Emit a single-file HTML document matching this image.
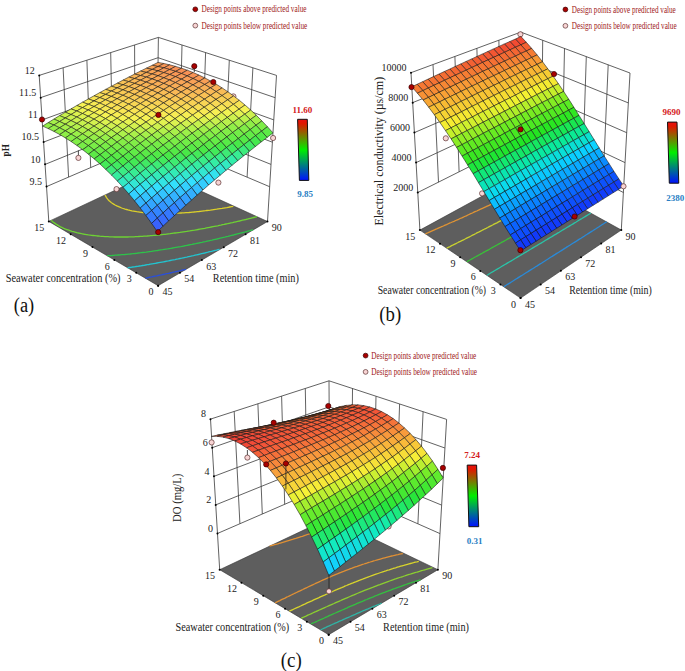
<!DOCTYPE html>
<html><head><meta charset="utf-8"><style>
html,body{margin:0;padding:0;background:#fff;}
svg{display:block;}
text{font-family:"Liberation Serif",serif;}
.s polygon{stroke:#141414;stroke-opacity:0.8;stroke-width:0.7;stroke-linejoin:round;}
</style></head><body>
<svg width="685" height="671" viewBox="0 0 685 671">
<defs><linearGradient id="cbg" x1="0" y1="0" x2="0" y2="1">
<stop offset="0" stop-color="#e81010"/><stop offset="0.07" stop-color="#e01800"/><stop offset="0.5" stop-color="#00ee00"/><stop offset="1" stop-color="#0010ff"/>
</linearGradient></defs>
<rect width="685" height="671" fill="#fff"/>
<line x1="46.5" y1="186.6" x2="157.0" y2="139.0" stroke="#3a3a3a" stroke-width="0.8"/>
<line x1="269.6" y1="186.7" x2="157.0" y2="139.0" stroke="#3a3a3a" stroke-width="0.8"/>
<line x1="45.1" y1="164.4" x2="157.3" y2="118.7" stroke="#3a3a3a" stroke-width="0.8"/>
<line x1="271.0" y1="164.4" x2="157.3" y2="118.7" stroke="#3a3a3a" stroke-width="0.8"/>
<line x1="43.6" y1="142.1" x2="157.5" y2="98.4" stroke="#3a3a3a" stroke-width="0.8"/>
<line x1="272.4" y1="142.2" x2="157.5" y2="98.4" stroke="#3a3a3a" stroke-width="0.8"/>
<line x1="42.2" y1="119.9" x2="157.8" y2="78.0" stroke="#3a3a3a" stroke-width="0.8"/>
<line x1="273.8" y1="119.9" x2="157.8" y2="78.0" stroke="#3a3a3a" stroke-width="0.8"/>
<line x1="40.7" y1="97.6" x2="158.1" y2="57.7" stroke="#3a3a3a" stroke-width="0.8"/>
<line x1="275.2" y1="97.7" x2="158.1" y2="57.7" stroke="#3a3a3a" stroke-width="0.8"/>
<line x1="39.2" y1="75.4" x2="158.4" y2="37.4" stroke="#3a3a3a" stroke-width="0.8"/>
<line x1="276.5" y1="75.4" x2="158.4" y2="37.4" stroke="#3a3a3a" stroke-width="0.8"/>
<line x1="68.6" y1="177.1" x2="63.1" y2="67.8" stroke="#3a3a3a" stroke-width="0.8"/>
<line x1="247.1" y1="177.1" x2="252.9" y2="67.8" stroke="#3a3a3a" stroke-width="0.8"/>
<line x1="90.7" y1="167.6" x2="86.9" y2="60.2" stroke="#3a3a3a" stroke-width="0.8"/>
<line x1="224.6" y1="167.6" x2="229.3" y2="60.2" stroke="#3a3a3a" stroke-width="0.8"/>
<line x1="112.8" y1="158.1" x2="110.7" y2="52.6" stroke="#3a3a3a" stroke-width="0.8"/>
<line x1="202.0" y1="158.1" x2="205.6" y2="52.6" stroke="#3a3a3a" stroke-width="0.8"/>
<line x1="134.9" y1="148.5" x2="134.6" y2="45.0" stroke="#3a3a3a" stroke-width="0.8"/>
<line x1="179.5" y1="148.6" x2="182.0" y2="45.0" stroke="#3a3a3a" stroke-width="0.8"/>
<line x1="157.0" y1="139.0" x2="158.4" y2="37.4" stroke="#3a3a3a" stroke-width="0.8"/>
<line x1="48.8" y1="221.4" x2="39.2" y2="75.4" stroke="#3a3a3a" stroke-width="0.8"/>
<line x1="267.5" y1="221.5" x2="276.5" y2="75.4" stroke="#3a3a3a" stroke-width="0.8"/>
<polygon points="158.1,285.7 48.8,221.4 156.5,170.8 267.5,221.5" fill="#5e5e5e" stroke="#333" stroke-width="0.6"/>
<polyline points="145.3,278.1 146.9,277.8 148.5,277.5 150.1,277.2 151.7,276.9 153.3,276.5 155.0,276.2 156.6,275.9 158.2,275.5 159.8,275.2 161.4,274.9 163.1,274.5 164.9,274.1 166.6,273.7 168.4,273.4 170.1,273.0 171.7,272.6 173.3,272.2 174.9,271.9 176.5,271.5 178.1,271.2 179.7,270.8 181.2,270.4 182.8,270.0 184.4,269.7 186.1,269.3" fill="none" stroke="#2a4fd8" stroke-width="1.3"/>
<polyline points="127.6,267.8 129.3,267.5 131.0,267.3 132.7,267.0 134.4,266.8 136.1,266.5 137.8,266.3 139.5,266.0 141.0,265.8 142.6,265.5 144.1,265.3 145.7,265.0 147.3,264.7 148.9,264.5 150.4,264.2 152.1,263.9 153.7,263.6 155.4,263.3 157.0,263.0 158.7,262.7 160.3,262.4 162.0,262.1 163.6,261.8 165.3,261.5 166.9,261.2 168.5,260.9 170.2,260.5 171.8,260.2 173.4,259.9 175.1,259.6 176.7,259.2 178.3,258.9 180.0,258.5 181.7,258.2 183.4,257.8 185.1,257.4 186.8,257.1 188.5,256.7 190.3,256.3 192.0,255.9 193.5,255.6 195.1,255.2 196.7,254.8 198.3,254.5 199.9,254.1 201.5,253.7 203.1,253.3 204.7,253.0 206.2,252.6 207.9,252.2 209.7,251.7 211.5,251.3 213.3,250.8 214.9,250.4 216.5,250.1 218.0,249.7 219.6,249.3" fill="none" stroke="#22c4d0" stroke-width="1.3"/>
<polyline points="107.2,255.7 108.7,255.7 110.0,255.6 111.9,255.5 113.8,255.3 115.2,255.2 116.6,255.1 118.4,255.0 120.3,254.9 121.8,254.7 123.2,254.6 124.8,254.5 126.6,254.3 128.5,254.1 130.0,254.0 131.4,253.8 132.9,253.6 134.7,253.5 136.5,253.3 138.3,253.0 139.9,252.9 141.3,252.7 142.8,252.5 144.4,252.3 146.2,252.1 147.9,251.8 149.7,251.6 151.4,251.4 153.0,251.1 154.5,250.9 156.0,250.7 157.5,250.5 159.2,250.2 160.9,249.9 162.6,249.7 164.3,249.4 166.0,249.1 167.7,248.9 169.3,248.6 171.0,248.3 172.7,248.0 174.4,247.7 176.0,247.4 177.5,247.1 179.1,246.8 180.7,246.6 182.3,246.3 183.9,246.0 185.5,245.6 187.2,245.3 188.8,245.0 190.4,244.7 192.1,244.4 193.7,244.0 195.4,243.7 197.0,243.3 198.7,243.0 200.4,242.6 202.0,242.3 203.7,241.9 205.4,241.6 207.1,241.2 208.8,240.8 210.5,240.4 212.1,240.1 213.7,239.7 215.3,239.3 216.9,239.0 218.5,238.6 220.1,238.2 221.7,237.8 223.3,237.4 224.9,237.1 226.4,236.7 228.0,236.3 229.8,235.8 231.6,235.4 233.4,235.0 235.1,234.5 236.7,234.1 238.3,233.7 239.8,233.3 241.4,232.9 243.0,232.5 244.5,232.1 246.2,231.6 248.0,231.1 249.9,230.6 251.5,230.2 253.1,229.8" fill="none" stroke="#2ec24a" stroke-width="1.3"/>
<polyline points="51.2,220.3 52.0,221.0 53.3,222.2 54.3,222.9 55.7,223.9 57.3,224.9 58.9,225.9 60.6,226.8 62.4,227.7 63.7,228.3 65.6,229.1 67.0,229.6 68.8,230.2 70.5,230.8 72.0,231.3 73.5,231.7 75.0,232.1 76.8,232.6 78.5,233.0 80.1,233.3 81.7,233.7 83.2,234.0 84.9,234.3 86.6,234.6 88.4,234.9 90.2,235.1 91.6,235.3 93.1,235.5 94.9,235.7 96.7,235.9 97.9,236.0 99.8,236.2 101.5,236.3 102.8,236.4 104.9,236.6 106.2,236.6 108.0,236.7 109.6,236.8 111.2,236.9 112.9,236.9 114.5,237.0 116.1,237.0 117.8,237.0 119.3,237.0 121.2,237.0 122.5,237.0 124.6,237.0 125.8,237.0 127.6,237.0 129.3,236.9 130.7,236.9 132.6,236.8 134.1,236.8 135.6,236.7 137.6,236.6 139.0,236.5 140.5,236.4 142.4,236.3 144.0,236.2 145.3,236.1 147.2,236.0 149.1,235.8 150.5,235.7 151.9,235.6 153.8,235.4 155.6,235.3 157.1,235.1 158.4,235.0 160.2,234.8 162.1,234.6 163.9,234.4 165.2,234.3 166.6,234.1 168.4,233.9 170.2,233.7 172.0,233.4 173.6,233.2 175.0,233.0 176.5,232.8 178.2,232.6 179.9,232.4 181.7,232.1 183.4,231.8 185.2,231.6 186.7,231.4 188.2,231.1 189.7,230.9 191.2,230.6 192.9,230.3 194.6,230.1 196.4,229.8 198.1,229.5 199.8,229.2 201.5,228.9 203.1,228.6 204.8,228.3 206.5,227.9 208.1,227.6 209.7,227.3 211.3,227.0 212.9,226.7 214.5,226.4 216.1,226.1 217.7,225.8 219.3,225.4 220.9,225.1 222.6,224.7 224.2,224.4 225.9,224.0 227.5,223.7 229.2,223.3 230.9,222.9 232.6,222.6 234.2,222.2 235.9,221.8 237.6,221.4 239.4,221.0 241.0,220.6 242.6,220.2 244.2,219.8 245.8,219.5 247.4,219.1 249.0,218.7 250.6,218.3 252.2,217.9 253.8,217.5 255.4,217.1 257.0,216.7" fill="none" stroke="#6ed234" stroke-width="1.3"/>
<polyline points="105.1,195.0 105.5,195.9 106.0,196.7 106.5,197.6 107.1,198.4 107.7,199.2 108.4,200.0 109.1,200.7 110.1,201.6 111.2,202.5 112.3,203.3 113.6,204.1 115.1,205.0 116.8,205.9 118.6,206.7 119.8,207.2 121.7,208.0 123.2,208.5 125.1,209.1 126.6,209.5 128.0,209.9 130.0,210.4 131.8,210.8 133.5,211.1 135.1,211.4 136.7,211.7 138.2,211.9 139.7,212.1 141.2,212.3 143.0,212.5 144.8,212.7 146.5,212.9 147.8,213.0 149.6,213.1 151.5,213.2 152.8,213.3 154.5,213.4 156.4,213.4 157.6,213.5 159.7,213.5 160.9,213.6 162.9,213.6 164.3,213.6 166.2,213.6 167.5,213.5 169.5,213.5 170.7,213.5 172.8,213.4 174.1,213.4 175.9,213.3 177.6,213.2 179.0,213.1 181.0,213.0 182.4,212.9 184.0,212.8 185.9,212.7 187.3,212.6 188.9,212.5 190.8,212.3 192.4,212.1 193.7,212.0 195.6,211.8 197.4,211.6 198.9,211.5 200.3,211.3 202.1,211.1 204.0,210.9 205.6,210.7 206.9,210.5 208.5,210.3 210.4,210.1 212.2,209.8 213.8,209.6 215.2,209.4 216.7,209.2 218.4,208.9 220.2,208.6 222.0,208.4 223.7,208.1 225.3,207.8 226.8,207.6 228.3,207.3 229.8,207.0 231.6,206.7 233.3,206.4" fill="none" stroke="#dcd02a" stroke-width="1.3"/>
<circle cx="46.53" cy="186.60" r="1" fill="#000"/>
<circle cx="45.07" cy="164.36" r="1" fill="#000"/>
<circle cx="43.61" cy="142.12" r="1" fill="#000"/>
<circle cx="42.15" cy="119.88" r="1" fill="#000"/>
<circle cx="40.70" cy="97.64" r="1" fill="#000"/>
<circle cx="39.24" cy="75.40" r="1" fill="#000"/>
<circle cx="158.12" cy="285.70" r="1" fill="#000"/>
<circle cx="158.12" cy="285.70" r="1" fill="#000"/>
<circle cx="136.26" cy="272.83" r="1" fill="#000"/>
<circle cx="179.99" cy="272.85" r="1" fill="#000"/>
<circle cx="114.40" cy="259.97" r="1" fill="#000"/>
<circle cx="201.86" cy="260.01" r="1" fill="#000"/>
<circle cx="92.53" cy="247.11" r="1" fill="#000"/>
<circle cx="223.73" cy="247.17" r="1" fill="#000"/>
<circle cx="70.67" cy="234.25" r="1" fill="#000"/>
<circle cx="245.59" cy="234.33" r="1" fill="#000"/>
<circle cx="48.81" cy="221.39" r="1" fill="#000"/>
<circle cx="267.46" cy="221.48" r="1" fill="#000"/>
<circle cx="233.4" cy="96.4" r="2.6" fill="#f8d4d4" stroke="#5a3030" stroke-width="0.7"/>
<g class="s">
<polygon points="158.0,66.5 152.2,65.3 158.0,62.4 163.9,63.5" fill="#f99d56"/>
<polygon points="163.9,67.8 158.0,66.5 163.9,63.5 169.7,64.8" fill="#f89656"/>
<polygon points="152.2,69.4 146.3,68.2 152.2,65.3 158.0,66.5" fill="#f9a356"/>
<polygon points="169.7,69.5 163.9,67.8 169.7,64.8 175.6,66.4" fill="#f89255"/>
<polygon points="158.0,70.9 152.2,69.4 158.0,66.5 163.9,67.8" fill="#f99d56"/>
<polygon points="146.3,72.4 140.5,71.1 146.3,68.2 152.2,69.4" fill="#f9a957"/>
<polygon points="152.1,74.0 146.3,72.4 152.2,69.4 158.0,70.9" fill="#f9a557"/>
<polygon points="140.5,75.5 134.6,74.1 140.5,71.1 146.3,72.4" fill="#f9b057"/>
<polygon points="175.6,71.4 169.7,69.5 175.6,66.4 181.5,68.2" fill="#f79055"/>
<polygon points="163.8,72.6 158.0,70.9 163.9,67.8 169.7,69.5" fill="#f89956"/>
<polygon points="146.3,77.1 140.5,75.5 146.3,72.4 152.1,74.0" fill="#f9ac57"/>
<polygon points="181.4,73.5 175.6,71.4 181.5,68.2 187.3,70.2" fill="#f79055"/>
<polygon points="169.7,74.5 163.8,72.6 169.7,69.5 175.6,71.4" fill="#f89856"/>
<polygon points="158.0,75.7 152.1,74.0 158.0,70.9 163.8,72.6" fill="#f9a156"/>
<polygon points="134.6,78.5 128.8,77.1 134.6,74.1 140.5,75.5" fill="#f9b556"/>
<polygon points="175.5,76.7 169.7,74.5 175.6,71.4 181.4,73.5" fill="#f89756"/>
<polygon points="140.4,80.2 134.6,78.5 140.5,75.5 146.3,77.1" fill="#f9b157"/>
<polygon points="187.2,75.9 181.4,73.5 187.3,70.2 193.1,72.5" fill="#f79155"/>
<polygon points="163.8,77.8 158.0,75.7 163.8,72.6 169.7,74.5" fill="#f99f56"/>
<polygon points="152.1,78.9 146.3,77.1 152.1,74.0 158.0,75.7" fill="#f9a857"/>
<polygon points="128.8,81.6 123.0,80.1 128.8,77.1 134.6,78.5" fill="#f9bc56"/>
<polygon points="157.9,81.0 152.1,78.9 158.0,75.7 163.8,77.8" fill="#f9a757"/>
<polygon points="193.0,78.5 187.2,75.9 193.1,72.5 199.0,75.1" fill="#f89456"/>
<polygon points="181.3,79.2 175.5,76.7 181.4,73.5 187.2,75.9" fill="#f89956"/>
<polygon points="169.6,80.0 163.8,77.8 169.7,74.5 175.5,76.7" fill="#f99f56"/>
<polygon points="146.2,82.1 140.4,80.2 146.3,77.1 152.1,78.9" fill="#f9af57"/>
<polygon points="134.6,83.4 128.8,81.6 134.6,78.5 140.4,80.2" fill="#f9b856"/>
<polygon points="123.0,84.8 117.2,83.2 123.0,80.1 128.8,81.6" fill="#f9c255"/>
<polygon points="198.9,81.4 193.0,78.5 199.0,75.1 204.8,77.9" fill="#f89956"/>
<polygon points="187.1,81.9 181.3,79.2 187.2,75.9 193.0,78.5" fill="#f99d56"/>
<polygon points="163.7,83.4 157.9,81.0 163.8,77.8 169.6,80.0" fill="#f9a757"/>
<polygon points="152.1,84.3 146.2,82.1 152.1,78.9 157.9,81.0" fill="#f9ae57"/>
<polygon points="140.4,85.4 134.6,83.4 140.4,80.2 146.2,82.1" fill="#f9b556"/>
<polygon points="128.8,86.6 123.0,84.8 128.8,81.6 134.6,83.4" fill="#f9be56"/>
<polygon points="175.4,82.6 169.6,80.0 175.5,76.7 181.3,79.2" fill="#f9a156"/>
<polygon points="117.2,87.9 111.4,86.3 117.2,83.2 123.0,84.8" fill="#f9c955"/>
<polygon points="181.2,85.4 175.4,82.6 181.3,79.2 187.1,81.9" fill="#f9a557"/>
<polygon points="169.5,86.0 163.7,83.4 169.6,80.0 175.4,82.6" fill="#f9a957"/>
<polygon points="122.9,89.8 117.2,87.9 123.0,84.8 128.8,86.6" fill="#f9c555"/>
<polygon points="111.4,91.1 105.6,89.4 111.4,86.3 117.2,87.9" fill="#f8cf55"/>
<polygon points="204.7,84.5 198.9,81.4 204.8,77.9 210.6,81.0" fill="#f9a056"/>
<polygon points="192.9,84.9 187.1,81.9 193.0,78.5 198.9,81.4" fill="#f9a156"/>
<polygon points="157.9,86.7 152.1,84.3 157.9,81.0 163.7,83.4" fill="#f9ae57"/>
<polygon points="146.2,87.6 140.4,85.4 146.2,82.1 152.1,84.3" fill="#f9b556"/>
<polygon points="134.6,88.7 128.8,86.6 134.6,83.4 140.4,85.4" fill="#f9bd56"/>
<polygon points="175.4,88.9 169.5,86.0 175.4,82.6 181.2,85.4" fill="#f9ad57"/>
<polygon points="117.1,93.1 111.4,91.1 117.2,87.9 122.9,89.8" fill="#f9cc55"/>
<polygon points="210.4,87.9 204.7,84.5 210.6,81.0 216.4,84.3" fill="#f9a957"/>
<polygon points="198.7,88.1 192.9,84.9 198.9,81.4 204.7,84.5" fill="#f9a957"/>
<polygon points="187.0,88.4 181.2,85.4 187.1,81.9 192.9,84.9" fill="#f9aa57"/>
<polygon points="163.7,89.4 157.9,86.7 163.7,83.4 169.5,86.0" fill="#f9b157"/>
<polygon points="152.0,90.2 146.2,87.6 152.1,84.3 157.9,86.7" fill="#f9b556"/>
<polygon points="140.4,91.0 134.6,88.7 140.4,85.4 146.2,87.6" fill="#f9bc56"/>
<polygon points="128.7,92.0 122.9,89.8 128.8,86.6 134.6,88.7" fill="#f9c355"/>
<polygon points="105.6,94.4 99.8,92.6 105.6,89.4 111.4,91.1" fill="#f8d555"/>
<polygon points="204.5,91.6 198.7,88.1 204.7,84.5 210.4,87.9" fill="#f9b157"/>
<polygon points="169.5,92.4 163.7,89.4 169.5,86.0 175.4,88.9" fill="#f9b456"/>
<polygon points="146.2,93.6 140.4,91.0 146.2,87.6 152.0,90.2" fill="#f9bd56"/>
<polygon points="111.3,96.4 105.6,94.4 111.4,91.1 117.1,93.1" fill="#f8d355"/>
<polygon points="216.2,91.6 210.4,87.9 216.4,84.3 222.1,87.9" fill="#f9b157"/>
<polygon points="192.8,91.7 187.0,88.4 192.9,84.9 198.7,88.1" fill="#f9b157"/>
<polygon points="181.2,92.0 175.4,88.9 181.2,85.4 187.0,88.4" fill="#f9b157"/>
<polygon points="157.8,92.9 152.0,90.2 157.9,86.7 163.7,89.4" fill="#f9b856"/>
<polygon points="134.5,94.4 128.7,92.0 134.6,88.7 140.4,91.0" fill="#f9c355"/>
<polygon points="122.9,95.3 117.1,93.1 122.9,89.8 128.7,92.0" fill="#f9ca55"/>
<polygon points="99.8,97.6 94.0,95.8 99.8,92.6 105.6,94.4" fill="#f8dd55"/>
<polygon points="128.7,97.8 122.9,95.3 128.7,92.0 134.5,94.4" fill="#f9ca55"/>
<polygon points="105.5,99.8 99.8,97.6 105.6,94.4 111.3,96.4" fill="#f8da55"/>
<polygon points="94.0,100.9 88.3,99.0 94.0,95.8 99.8,97.6" fill="#f8e454"/>
<polygon points="222.0,95.6 216.2,91.6 222.1,87.9 227.9,91.8" fill="#f9bc56"/>
<polygon points="210.3,95.4 204.5,91.6 210.4,87.9 216.2,91.6" fill="#f9b956"/>
<polygon points="198.6,95.3 192.8,91.7 198.7,88.1 204.5,91.6" fill="#f9b856"/>
<polygon points="186.9,95.4 181.2,92.0 187.0,88.4 192.8,91.7" fill="#f9b856"/>
<polygon points="175.3,95.6 169.5,92.4 175.4,88.9 181.2,92.0" fill="#f9b956"/>
<polygon points="163.6,95.9 157.8,92.9 163.7,89.4 169.5,92.4" fill="#f9bc56"/>
<polygon points="152.0,96.4 146.2,93.6 152.0,90.2 157.8,92.9" fill="#f9bf56"/>
<polygon points="140.3,97.1 134.5,94.4 140.4,91.0 146.2,93.6" fill="#f9c455"/>
<polygon points="117.1,98.7 111.3,96.4 117.1,93.1 122.9,95.3" fill="#f8d155"/>
<polygon points="227.7,99.8 222.0,95.6 227.9,91.8 233.6,95.9" fill="#f9c855"/>
<polygon points="216.0,99.4 210.3,95.4 216.2,91.6 222.0,95.6" fill="#f9c455"/>
<polygon points="192.7,99.1 186.9,95.4 192.8,91.7 198.6,95.3" fill="#f9c056"/>
<polygon points="181.1,99.1 175.3,95.6 181.2,92.0 186.9,95.4" fill="#f9c056"/>
<polygon points="169.4,99.2 163.6,95.9 169.5,92.4 175.3,95.6" fill="#f9c155"/>
<polygon points="157.7,99.5 152.0,96.4 157.8,92.9 163.6,95.9" fill="#f9c355"/>
<polygon points="134.5,100.6 128.7,97.8 134.5,94.4 140.3,97.1" fill="#f9cb55"/>
<polygon points="122.9,101.3 117.1,98.7 122.9,95.3 128.7,97.8" fill="#f8d155"/>
<polygon points="111.3,102.1 105.5,99.8 111.3,96.4 117.1,98.7" fill="#f8d955"/>
<polygon points="99.8,103.1 94.0,100.9 99.8,97.6 105.5,99.8" fill="#f8e154"/>
<polygon points="204.4,99.2 198.6,95.3 204.5,91.6 210.3,95.4" fill="#f9c155"/>
<polygon points="146.1,100.0 140.3,97.1 146.2,93.6 152.0,96.4" fill="#f9c755"/>
<polygon points="88.3,104.3 82.5,102.2 88.3,99.0 94.0,100.9" fill="#f7eb54"/>
<polygon points="210.1,103.3 204.4,99.2 210.3,95.4 216.0,99.4" fill="#f9cc55"/>
<polygon points="198.5,103.0 192.7,99.1 198.6,95.3 204.4,99.2" fill="#f9c955"/>
<polygon points="186.8,102.8 181.1,99.1 186.9,95.4 192.7,99.1" fill="#f9c855"/>
<polygon points="151.9,103.2 146.1,100.0 152.0,96.4 157.7,99.5" fill="#f9cb55"/>
<polygon points="140.3,103.6 134.5,100.6 140.3,97.1 146.1,100.0" fill="#f9ce55"/>
<polygon points="117.1,104.8 111.3,102.1 117.1,98.7 122.9,101.3" fill="#f8d955"/>
<polygon points="105.5,105.6 99.8,103.1 105.5,99.8 111.3,102.1" fill="#f8e054"/>
<polygon points="94.0,106.5 88.3,104.3 94.0,100.9 99.8,103.1" fill="#f7e954"/>
<polygon points="82.5,107.6 76.8,105.5 82.5,102.2 88.3,104.3" fill="#f7f253"/>
<polygon points="233.4,104.3 227.7,99.8 233.6,95.9 239.3,100.3" fill="#f8d555"/>
<polygon points="221.8,103.7 216.0,99.4 222.0,95.6 227.7,99.8" fill="#f8d055"/>
<polygon points="175.2,102.8 169.4,99.2 175.3,95.6 181.1,99.1" fill="#f9c855"/>
<polygon points="163.5,102.9 157.7,99.5 163.6,95.9 169.4,99.2" fill="#f9c955"/>
<polygon points="128.7,104.1 122.9,101.3 128.7,97.8 134.5,100.6" fill="#f8d355"/>
<polygon points="239.1,109.1 233.4,104.3 239.3,100.3 245.0,105.0" fill="#f8e454"/>
<polygon points="227.5,108.3 221.8,103.7 227.7,99.8 233.4,104.3" fill="#f8dd54"/>
<polygon points="215.9,107.7 210.1,103.3 216.0,99.4 221.8,103.7" fill="#f8d955"/>
<polygon points="204.2,107.2 198.5,103.0 204.4,99.2 210.1,103.3" fill="#f8d555"/>
<polygon points="192.6,106.9 186.8,102.8 192.7,99.1 198.5,103.0" fill="#f8d155"/>
<polygon points="181.0,106.6 175.2,102.8 181.1,99.1 186.8,102.8" fill="#f8d055"/>
<polygon points="169.3,106.6 163.5,102.9 169.4,99.2 175.2,102.8" fill="#f8d055"/>
<polygon points="157.7,106.6 151.9,103.2 157.7,99.5 163.5,102.9" fill="#f8d155"/>
<polygon points="146.1,106.8 140.3,103.6 146.1,100.0 151.9,103.2" fill="#f8d355"/>
<polygon points="134.5,107.2 128.7,104.1 134.5,100.6 140.3,103.6" fill="#f8d655"/>
<polygon points="122.9,107.7 117.1,104.8 122.9,101.3 128.7,104.1" fill="#f8db55"/>
<polygon points="111.3,108.3 105.5,105.6 111.3,102.1 117.1,104.8" fill="#f8e154"/>
<polygon points="99.8,109.1 94.0,106.5 99.8,103.1 105.5,105.6" fill="#f7e854"/>
<polygon points="88.2,110.0 82.5,107.6 88.3,104.3 94.0,106.5" fill="#f7f053"/>
<polygon points="76.8,111.0 71.0,108.9 76.8,105.5 82.5,107.6" fill="#e9f251"/>
<polygon points="233.2,113.2 227.5,108.3 233.4,104.3 239.1,109.1" fill="#f7ed53"/>
<polygon points="198.3,111.2 192.6,106.9 198.5,103.0 204.2,107.2" fill="#f8dd55"/>
<polygon points="175.1,110.5 169.3,106.6 175.2,102.8 181.0,106.6" fill="#f8d955"/>
<polygon points="140.2,110.6 134.5,107.2 140.3,103.6 146.1,106.8" fill="#f8db55"/>
<polygon points="117.1,111.3 111.3,108.3 117.1,104.8 122.9,107.7" fill="#f8e254"/>
<polygon points="244.7,114.2 239.1,109.1 245.0,105.0 250.7,110.0" fill="#f4f353"/>
<polygon points="221.6,112.4 215.9,107.7 221.8,103.7 227.5,108.3" fill="#f8e654"/>
<polygon points="210.0,111.7 204.2,107.2 210.1,103.3 215.9,107.7" fill="#f8e154"/>
<polygon points="186.7,110.7 181.0,106.6 186.8,102.8 192.6,106.9" fill="#f8da55"/>
<polygon points="163.5,110.4 157.7,106.6 163.5,102.9 169.3,106.6" fill="#f8d855"/>
<polygon points="151.8,110.4 146.1,106.8 151.9,103.2 157.7,106.6" fill="#f8d955"/>
<polygon points="128.6,110.9 122.9,107.7 128.7,104.1 134.5,107.2" fill="#f8de54"/>
<polygon points="105.5,111.9 99.8,109.1 105.5,105.6 111.3,108.3" fill="#f7e954"/>
<polygon points="94.0,112.6 88.2,110.0 94.0,106.5 99.8,109.1" fill="#f7ef53"/>
<polygon points="82.5,113.5 76.8,111.0 82.5,107.6 88.2,110.0" fill="#edf352"/>
<polygon points="71.0,114.5 65.3,112.2 71.0,108.9 76.8,111.0" fill="#d9f250"/>
<polygon points="122.8,114.5 117.1,111.3 122.9,107.7 128.6,110.9" fill="#f8e654"/>
<polygon points="76.8,117.0 71.0,114.5 76.8,111.0 82.5,113.5" fill="#ddf250"/>
<polygon points="65.3,118.0 59.6,115.6 65.3,112.2 71.0,114.5" fill="#c8f14d"/>
<polygon points="250.4,119.5 244.7,114.2 250.7,110.0 256.3,115.3" fill="#cdf14e"/>
<polygon points="238.8,118.4 233.2,113.2 239.1,109.1 244.7,114.2" fill="#e1f251"/>
<polygon points="227.3,117.4 221.6,112.4 227.5,108.3 233.2,113.2" fill="#f1f352"/>
<polygon points="215.7,116.5 210.0,111.7 215.9,107.7 221.6,112.4" fill="#f7ef53"/>
<polygon points="204.1,115.7 198.3,111.2 204.2,107.2 210.0,111.7" fill="#f7e954"/>
<polygon points="192.5,115.1 186.7,110.7 192.6,106.9 198.3,111.2" fill="#f8e554"/>
<polygon points="180.8,114.7 175.1,110.5 181.0,106.6 186.7,110.7" fill="#f8e254"/>
<polygon points="169.2,114.4 163.5,110.4 169.3,106.6 175.1,110.5" fill="#f8e154"/>
<polygon points="157.6,114.2 151.8,110.4 157.7,106.6 163.5,110.4" fill="#f8e154"/>
<polygon points="146.0,114.2 140.2,110.6 146.1,106.8 151.8,110.4" fill="#f8e154"/>
<polygon points="134.4,114.3 128.6,110.9 134.5,107.2 140.2,110.6" fill="#f8e354"/>
<polygon points="111.3,114.9 105.5,111.9 111.3,108.3 117.1,111.3" fill="#f7eb54"/>
<polygon points="99.8,115.5 94.0,112.6 99.8,109.1 105.5,111.9" fill="#f7f153"/>
<polygon points="88.2,116.2 82.5,113.5 88.2,110.0 94.0,112.6" fill="#eef352"/>
<polygon points="256.0,125.2 250.4,119.5 256.3,115.3 261.9,120.9" fill="#a2f049"/>
<polygon points="244.5,123.8 238.8,118.4 244.7,114.2 250.4,119.5" fill="#b9f14c"/>
<polygon points="232.9,122.6 227.3,117.4 233.2,113.2 238.8,118.4" fill="#cdf14e"/>
<polygon points="221.4,121.5 215.7,116.5 221.6,112.4 227.3,117.4" fill="#ddf250"/>
<polygon points="209.8,120.6 204.1,115.7 210.0,111.7 215.7,116.5" fill="#edf352"/>
<polygon points="198.2,119.8 192.5,115.1 198.3,111.2 204.1,115.7" fill="#f7f253"/>
<polygon points="186.6,119.2 180.8,114.7 186.7,110.7 192.5,115.1" fill="#f7ee53"/>
<polygon points="163.4,118.3 157.6,114.2 163.5,110.4 169.2,114.4" fill="#f7e954"/>
<polygon points="151.8,118.1 146.0,114.2 151.8,110.4 157.6,114.2" fill="#f7e954"/>
<polygon points="140.2,118.0 134.4,114.3 140.2,110.6 146.0,114.2" fill="#f7e954"/>
<polygon points="128.6,118.1 122.8,114.5 128.6,110.9 134.4,114.3" fill="#f7eb54"/>
<polygon points="105.5,118.6 99.8,115.5 105.5,111.9 111.3,114.9" fill="#f7f353"/>
<polygon points="82.5,119.8 76.8,117.0 82.5,113.5 88.2,116.2" fill="#ddf250"/>
<polygon points="71.0,120.6 65.3,118.0 71.0,114.5 76.8,117.0" fill="#cbf14e"/>
<polygon points="175.0,118.7 169.2,114.4 175.1,110.5 180.8,114.7" fill="#f7eb54"/>
<polygon points="117.1,118.3 111.3,114.9 117.1,111.3 122.8,114.5" fill="#f7ee53"/>
<polygon points="94.0,119.1 88.2,116.2 94.0,112.6 99.8,115.5" fill="#ebf251"/>
<polygon points="59.6,121.5 53.9,119.1 59.6,115.6 65.3,118.0" fill="#b7f14c"/>
<polygon points="261.5,131.2 256.0,125.2 261.9,120.9 267.4,126.7" fill="#7dee47"/>
<polygon points="238.5,128.2 232.9,122.6 238.8,118.4 244.5,123.8" fill="#a5f04a"/>
<polygon points="227.0,126.9 221.4,121.5 227.3,117.4 232.9,122.6" fill="#b9f14c"/>
<polygon points="215.5,125.8 209.8,120.6 215.7,116.5 221.4,121.5" fill="#caf14e"/>
<polygon points="180.7,123.2 175.0,118.7 180.8,114.7 186.6,119.2" fill="#eef352"/>
<polygon points="169.1,122.7 163.4,118.3 169.2,114.4 175.0,118.7" fill="#f5f353"/>
<polygon points="157.6,122.3 151.8,118.1 157.6,114.2 163.4,118.3" fill="#f7f253"/>
<polygon points="134.4,121.9 128.6,118.1 134.4,114.3 140.2,118.0" fill="#f7f253"/>
<polygon points="122.8,121.9 117.1,118.3 122.8,114.5 128.6,118.1" fill="#f5f353"/>
<polygon points="111.3,122.1 105.5,118.6 111.3,114.9 117.1,118.3" fill="#eff352"/>
<polygon points="99.8,122.4 94.0,119.1 99.8,115.5 105.5,118.6" fill="#e5f251"/>
<polygon points="76.8,123.4 71.0,120.6 76.8,117.0 82.5,119.8" fill="#cbf14e"/>
<polygon points="65.3,124.2 59.6,121.5 65.3,118.0 71.0,120.6" fill="#b9f14c"/>
<polygon points="53.9,125.0 48.2,122.6 53.9,119.1 59.6,121.5" fill="#a5f04a"/>
<polygon points="250.1,129.6 244.5,123.8 250.4,119.5 256.0,125.2" fill="#8def47"/>
<polygon points="203.9,124.8 198.2,119.8 204.1,115.7 209.8,120.6" fill="#d9f250"/>
<polygon points="192.3,123.9 186.6,119.2 192.5,115.1 198.2,119.8" fill="#e5f251"/>
<polygon points="146.0,122.0 140.2,118.0 146.0,114.2 151.8,118.1" fill="#f7f153"/>
<polygon points="88.2,122.8 82.5,119.8 88.2,116.2 94.0,119.1" fill="#d9f250"/>
<polygon points="267.1,137.4 261.5,131.2 267.4,126.7 273.0,132.9" fill="#5deb47"/>
<polygon points="255.6,135.6 250.1,129.6 256.0,125.2 261.5,131.2" fill="#6fed47"/>
<polygon points="244.2,134.0 238.5,128.2 244.5,123.8 250.1,129.6" fill="#80ee47"/>
<polygon points="232.7,132.5 227.0,126.9 232.9,122.6 238.5,128.2" fill="#90ef48"/>
<polygon points="221.1,131.2 215.5,125.8 221.4,121.5 227.0,126.9" fill="#a4f049"/>
<polygon points="209.6,130.0 203.9,124.8 209.8,120.6 215.5,125.8" fill="#b5f14c"/>
<polygon points="186.5,128.1 180.7,123.2 186.6,119.2 192.3,123.9" fill="#d1f14f"/>
<polygon points="174.9,127.3 169.1,122.7 175.0,118.7 180.7,123.2" fill="#dbf250"/>
<polygon points="163.3,126.7 157.6,122.3 163.4,118.3 169.1,122.7" fill="#e1f251"/>
<polygon points="151.7,126.3 146.0,122.0 151.8,118.1 157.6,122.3" fill="#e6f251"/>
<polygon points="128.6,125.8 122.8,121.9 128.6,118.1 134.4,121.9" fill="#e6f251"/>
<polygon points="117.1,125.7 111.3,122.1 117.1,118.3 122.8,121.9" fill="#e2f251"/>
<polygon points="105.5,125.9 99.8,122.4 105.5,118.6 111.3,122.1" fill="#dcf250"/>
<polygon points="94.0,126.1 88.2,122.8 94.0,119.1 99.8,122.4" fill="#d3f14f"/>
<polygon points="71.1,127.1 65.3,124.2 71.0,120.6 76.8,123.4" fill="#b9f14c"/>
<polygon points="59.6,127.8 53.9,125.0 59.6,121.5 65.3,124.2" fill="#a8f04a"/>
<polygon points="48.2,128.6 42.6,126.1 48.2,122.6 53.9,125.0" fill="#94ef48"/>
<polygon points="198.0,129.0 192.3,123.9 198.2,119.8 203.9,124.8" fill="#c5f14d"/>
<polygon points="140.2,125.9 134.4,121.9 140.2,118.0 146.0,122.0" fill="#e8f251"/>
<polygon points="82.5,126.5 76.8,123.4 82.5,119.8 88.2,122.8" fill="#c7f14d"/>
<polygon points="226.8,136.9 221.1,131.2 227.0,126.9 232.7,132.5" fill="#81ee47"/>
<polygon points="203.7,134.3 198.0,129.0 203.9,124.8 209.6,130.0" fill="#a1f049"/>
<polygon points="169.1,131.5 163.3,126.7 169.1,122.7 174.9,127.3" fill="#c7f14d"/>
<polygon points="145.9,130.3 140.2,125.9 146.0,122.0 151.7,126.3" fill="#d2f14f"/>
<polygon points="111.3,129.6 105.5,125.9 111.3,122.1 117.1,125.7" fill="#d0f14f"/>
<polygon points="65.4,130.8 59.6,127.8 65.3,124.2 71.1,127.1" fill="#a6f04a"/>
<polygon points="53.9,131.4 48.2,128.6 53.9,125.0 59.6,127.8" fill="#95ef48"/>
<polygon points="261.2,142.0 255.6,135.6 261.5,131.2 267.1,137.4" fill="#50ea47"/>
<polygon points="249.7,140.2 244.2,134.0 250.1,129.6 255.6,135.6" fill="#62ec47"/>
<polygon points="238.3,138.5 232.7,132.5 238.5,128.2 244.2,134.0" fill="#72ed47"/>
<polygon points="215.3,135.6 209.6,130.0 215.5,125.8 221.1,131.2" fill="#8fef48"/>
<polygon points="192.2,133.2 186.5,128.1 192.3,123.9 198.0,129.0" fill="#b1f14b"/>
<polygon points="180.6,132.3 174.9,127.3 180.7,123.2 186.5,128.1" fill="#bdf14d"/>
<polygon points="157.5,130.8 151.7,126.3 157.6,122.3 163.3,126.7" fill="#cdf14e"/>
<polygon points="134.4,129.9 128.6,125.8 134.4,121.9 140.2,125.9" fill="#d4f14f"/>
<polygon points="122.8,129.7 117.1,125.7 122.8,121.9 128.6,125.8" fill="#d3f14f"/>
<polygon points="99.8,129.7 94.0,126.1 99.8,122.4 105.5,125.9" fill="#c9f14e"/>
<polygon points="88.3,129.9 82.5,126.5 88.2,122.8 94.0,126.1" fill="#c1f14d"/>
<polygon points="76.8,130.3 71.1,127.1 76.8,123.4 82.5,126.5" fill="#b5f14c"/>
<polygon points="255.3,146.6 249.7,140.2 255.6,135.6 261.2,142.0" fill="#45e94e"/>
<polygon points="243.8,144.7 238.3,138.5 244.2,134.0 249.7,140.2" fill="#55ea47"/>
<polygon points="232.4,143.0 226.8,136.9 232.7,132.5 238.3,138.5" fill="#65ec47"/>
<polygon points="209.4,139.9 203.7,134.3 209.6,130.0 215.3,135.6" fill="#81ee47"/>
<polygon points="174.8,136.5 169.1,131.5 174.9,127.3 180.6,132.3" fill="#a9f04a"/>
<polygon points="163.2,135.6 157.5,130.8 163.3,126.7 169.1,131.5" fill="#b2f14b"/>
<polygon points="151.7,134.9 145.9,130.3 151.7,126.3 157.5,130.8" fill="#b9f14c"/>
<polygon points="117.1,133.7 111.3,129.6 117.1,125.7 122.8,129.7" fill="#c0f14d"/>
<polygon points="105.5,133.6 99.8,129.7 105.5,125.9 111.3,129.6" fill="#bcf14d"/>
<polygon points="82.5,133.8 76.8,130.3 82.5,126.5 88.3,129.9" fill="#adf14b"/>
<polygon points="71.1,134.1 65.4,130.8 71.1,127.1 76.8,130.3" fill="#a1f049"/>
<polygon points="59.7,134.5 53.9,131.4 59.6,127.8 65.4,130.8" fill="#94ef48"/>
<polygon points="220.9,141.4 215.3,135.6 221.1,131.2 226.8,136.9" fill="#74ed47"/>
<polygon points="197.9,138.7 192.2,133.2 198.0,129.0 203.7,134.3" fill="#8def47"/>
<polygon points="186.3,137.5 180.6,132.3 186.5,128.1 192.2,133.2" fill="#9cf049"/>
<polygon points="140.1,134.4 134.4,129.9 140.2,125.9 145.9,130.3" fill="#bef14d"/>
<polygon points="128.6,134.0 122.8,129.7 128.6,125.8 134.4,129.9" fill="#c1f14d"/>
<polygon points="94.0,133.6 88.3,129.9 94.0,126.1 99.8,129.7" fill="#b6f14c"/>
<polygon points="249.4,151.3 243.8,144.7 249.7,140.2 255.3,146.6" fill="#41ea65"/>
<polygon points="238.0,149.3 232.4,143.0 238.3,138.5 243.8,144.7" fill="#47e948"/>
<polygon points="203.6,144.4 197.9,138.7 203.7,134.3 209.4,139.9" fill="#73ed47"/>
<polygon points="192.0,143.0 186.3,137.5 192.2,133.2 197.9,138.7" fill="#7eee47"/>
<polygon points="134.4,138.5 128.6,134.0 134.4,129.9 140.1,134.4" fill="#aaf04a"/>
<polygon points="76.8,137.6 71.1,134.1 76.8,130.3 82.5,133.8" fill="#9af049"/>
<polygon points="226.5,147.5 220.9,141.4 226.8,136.9 232.4,143.0" fill="#57eb47"/>
<polygon points="215.1,145.9 209.4,139.9 215.3,135.6 220.9,141.4" fill="#66ec47"/>
<polygon points="180.5,141.8 174.8,136.5 180.6,132.3 186.3,137.5" fill="#89ef47"/>
<polygon points="169.0,140.8 163.2,135.6 169.1,131.5 174.8,136.5" fill="#94ef48"/>
<polygon points="157.4,139.9 151.7,134.9 157.5,130.8 163.2,135.6" fill="#9df049"/>
<polygon points="122.8,138.0 117.1,133.7 122.8,129.7 128.6,134.0" fill="#acf14b"/>
<polygon points="111.3,137.7 105.5,133.6 111.3,129.6 117.1,133.7" fill="#acf14b"/>
<polygon points="99.8,137.5 94.0,133.6 99.8,129.7 105.5,133.6" fill="#a9f04a"/>
<polygon points="88.3,137.5 82.5,133.8 88.3,129.9 94.0,133.6" fill="#a2f049"/>
<polygon points="65.4,137.9 59.7,134.5 65.4,130.8 71.1,134.1" fill="#8eef47"/>
<polygon points="145.9,139.1 140.1,134.4 145.9,130.3 151.7,134.9" fill="#a5f04a"/>
<polygon points="243.5,156.0 238.0,149.3 243.8,144.7 249.4,151.3" fill="#3deb7c"/>
<polygon points="232.1,154.0 226.5,147.5 232.4,143.0 238.0,149.3" fill="#42ea5e"/>
<polygon points="220.7,152.1 215.1,145.9 220.9,141.4 226.5,147.5" fill="#49e947"/>
<polygon points="209.2,150.4 203.6,144.4 209.4,139.9 215.1,145.9" fill="#59eb47"/>
<polygon points="197.7,148.9 192.0,143.0 197.9,138.7 203.6,144.4" fill="#65ec47"/>
<polygon points="186.2,147.4 180.5,141.8 186.3,137.5 192.0,143.0" fill="#71ed47"/>
<polygon points="151.7,144.1 145.9,139.1 151.7,134.9 157.4,139.9" fill="#89ef47"/>
<polygon points="140.1,143.3 134.4,138.5 140.1,134.4 145.9,139.1" fill="#91ef48"/>
<polygon points="128.6,142.6 122.8,138.0 128.6,134.0 134.4,138.5" fill="#95ef48"/>
<polygon points="94.1,141.5 88.3,137.5 94.0,133.6 99.8,137.5" fill="#95ef48"/>
<polygon points="82.6,141.5 76.8,137.6 82.5,133.8 88.3,137.5" fill="#8eef47"/>
<polygon points="71.1,141.5 65.4,137.9 71.1,134.1 76.8,137.6" fill="#88ef47"/>
<polygon points="174.7,146.2 169.0,140.8 174.8,136.5 180.5,141.8" fill="#7bed47"/>
<polygon points="163.2,145.1 157.4,139.9 163.2,135.6 169.0,140.8" fill="#83ee47"/>
<polygon points="117.1,142.1 111.3,137.7 117.1,133.7 122.8,138.0" fill="#98f049"/>
<polygon points="105.6,141.8 99.8,137.5 105.5,133.6 111.3,137.7" fill="#97f049"/>
<polygon points="88.4,145.6 82.6,141.5 88.3,137.5 94.1,141.5" fill="#84ee47"/>
<polygon points="237.7,160.7 232.1,154.0 238.0,149.3 243.5,156.0" fill="#38ec93"/>
<polygon points="226.3,158.7 220.7,152.1 226.5,147.5 232.1,154.0" fill="#3eeb75"/>
<polygon points="214.8,156.7 209.2,150.4 215.1,145.9 220.7,152.1" fill="#43ea5a"/>
<polygon points="203.4,155.0 197.7,148.9 203.6,144.4 209.2,150.4" fill="#4ae947"/>
<polygon points="191.9,153.4 186.2,147.4 192.0,143.0 197.7,148.9" fill="#58eb47"/>
<polygon points="180.4,151.9 174.7,146.2 180.5,141.8 186.2,147.4" fill="#63ec47"/>
<polygon points="157.4,149.4 151.7,144.1 157.4,139.9 163.2,145.1" fill="#75ed47"/>
<polygon points="145.9,148.4 140.1,143.3 145.9,139.1 151.7,144.1" fill="#7ded47"/>
<polygon points="134.4,147.5 128.6,142.6 134.4,138.5 140.1,143.3" fill="#81ee47"/>
<polygon points="122.8,146.8 117.1,142.1 122.8,138.0 128.6,142.6" fill="#85ee47"/>
<polygon points="99.8,145.9 94.1,141.5 99.8,137.5 105.6,141.8" fill="#86ee47"/>
<polygon points="76.9,145.5 71.1,141.5 76.8,137.6 82.6,141.5" fill="#81ee47"/>
<polygon points="168.9,150.6 163.2,145.1 169.0,140.8 174.7,146.2" fill="#6ded47"/>
<polygon points="111.3,146.3 105.6,141.8 111.3,137.7 117.1,142.1" fill="#86ee47"/>
<polygon points="174.6,156.4 168.9,150.6 174.7,146.2 180.4,151.9" fill="#55ea47"/>
<polygon points="140.1,152.7 134.4,147.5 140.1,143.3 145.9,148.4" fill="#6fed47"/>
<polygon points="94.1,150.0 88.4,145.6 94.1,141.5 99.8,145.9" fill="#79ed47"/>
<polygon points="82.7,149.7 76.9,145.5 82.6,141.5 88.4,145.6" fill="#77ed47"/>
<polygon points="231.8,165.5 226.3,158.7 232.1,154.0 237.7,160.7" fill="#33edaa"/>
<polygon points="220.4,163.4 214.8,156.7 220.7,152.1 226.3,158.7" fill="#39ec8c"/>
<polygon points="209.0,161.4 203.4,155.0 209.2,150.4 214.8,156.7" fill="#3feb71"/>
<polygon points="197.6,159.6 191.9,153.4 197.7,148.9 203.4,155.0" fill="#44ea59"/>
<polygon points="186.1,157.9 180.4,151.9 186.2,147.4 191.9,153.4" fill="#49e947"/>
<polygon points="163.1,155.0 157.4,149.4 163.2,145.1 168.9,150.6" fill="#60ec47"/>
<polygon points="151.6,153.8 145.9,148.4 151.7,144.1 157.4,149.4" fill="#68ec47"/>
<polygon points="128.6,151.8 122.8,146.8 128.6,142.6 134.4,147.5" fill="#74ed47"/>
<polygon points="117.1,151.1 111.3,146.3 117.1,142.1 122.8,146.8" fill="#77ed47"/>
<polygon points="105.6,150.5 99.8,145.9 105.6,141.8 111.3,146.3" fill="#79ed47"/>
<polygon points="226.0,170.3 220.4,163.4 226.3,158.7 231.8,165.5" fill="#33e9c1"/>
<polygon points="214.6,168.1 209.0,161.4 214.8,156.7 220.4,163.4" fill="#35eda4"/>
<polygon points="203.2,166.1 197.6,159.6 203.4,155.0 209.0,161.4" fill="#3aec89"/>
<polygon points="191.8,164.2 186.1,157.9 191.9,153.4 197.6,159.6" fill="#3feb70"/>
<polygon points="180.3,162.5 174.6,156.4 180.4,151.9 186.1,157.9" fill="#43ea59"/>
<polygon points="168.8,160.9 163.1,155.0 168.9,150.6 174.6,156.4" fill="#48e947"/>
<polygon points="145.9,158.2 140.1,152.7 145.9,148.4 151.6,153.8" fill="#5aeb47"/>
<polygon points="134.4,157.1 128.6,151.8 134.4,147.5 140.1,152.7" fill="#61ec47"/>
<polygon points="111.4,155.3 105.6,150.5 111.3,146.3 117.1,151.1" fill="#69ed47"/>
<polygon points="99.9,154.7 94.1,150.0 99.8,145.9 105.6,150.5" fill="#6bed47"/>
<polygon points="88.4,154.2 82.7,149.7 88.4,145.6 94.1,150.0" fill="#6ced47"/>
<polygon points="157.3,159.5 151.6,153.8 157.4,149.4 163.1,155.0" fill="#51ea47"/>
<polygon points="122.9,156.2 117.1,151.1 122.8,146.8 128.6,151.8" fill="#66ec47"/>
<polygon points="220.2,175.2 214.6,168.1 220.4,163.4 226.0,170.3" fill="#33e5d7"/>
<polygon points="208.8,172.9 203.2,166.1 209.0,161.4 214.6,168.1" fill="#33eaba"/>
<polygon points="174.5,167.1 168.8,160.9 174.6,156.4 180.3,162.5" fill="#3feb71"/>
<polygon points="163.1,165.5 157.3,159.5 163.1,155.0 168.8,160.9" fill="#42ea5d"/>
<polygon points="105.7,159.7 99.9,154.7 105.6,150.5 111.4,155.3" fill="#5ceb47"/>
<polygon points="197.4,170.9 191.8,164.2 197.6,159.6 203.2,166.1" fill="#35eda0"/>
<polygon points="186.0,168.9 180.3,162.5 186.1,157.9 191.8,164.2" fill="#3aec87"/>
<polygon points="151.6,164.0 145.9,158.2 151.6,153.8 157.3,159.5" fill="#46e94d"/>
<polygon points="140.1,162.7 134.4,157.1 140.1,152.7 145.9,158.2" fill="#4cea47"/>
<polygon points="128.6,161.5 122.9,156.2 128.6,151.8 134.4,157.1" fill="#53ea47"/>
<polygon points="117.1,160.5 111.4,155.3 117.1,151.1 122.9,156.2" fill="#59eb47"/>
<polygon points="94.2,158.9 88.4,154.2 94.1,150.0 99.9,154.7" fill="#5deb47"/>
<polygon points="214.4,180.1 208.8,172.9 214.6,168.1 220.2,175.2" fill="#33e2ed"/>
<polygon points="203.0,177.8 197.4,170.9 203.2,166.1 208.8,172.9" fill="#33e6d1"/>
<polygon points="191.6,175.7 186.0,168.9 191.8,164.2 197.4,170.9" fill="#33ebb7"/>
<polygon points="180.2,173.7 174.5,167.1 180.3,162.5 186.0,168.9" fill="#35ed9f"/>
<polygon points="168.8,171.8 163.1,165.5 168.8,160.9 174.5,167.1" fill="#3aec89"/>
<polygon points="157.3,170.1 151.6,164.0 157.3,159.5 163.1,165.5" fill="#3eeb75"/>
<polygon points="134.4,167.2 128.6,161.5 134.4,157.1 140.1,162.7" fill="#44ea56"/>
<polygon points="122.9,166.0 117.1,160.5 122.9,156.2 128.6,161.5" fill="#46e94a"/>
<polygon points="111.4,164.9 105.7,159.7 111.4,155.3 117.1,160.5" fill="#4ae947"/>
<polygon points="100.0,164.0 94.2,158.9 99.9,154.7 105.7,159.7" fill="#4eea47"/>
<polygon points="145.8,168.6 140.1,162.7 145.9,158.2 151.6,164.0" fill="#41ea64"/>
<polygon points="117.2,170.5 111.4,164.9 117.1,160.5 122.9,166.0" fill="#41ea61"/>
<polygon points="208.6,185.0 203.0,177.8 208.8,172.9 214.4,180.1" fill="#33dcff"/>
<polygon points="197.3,182.7 191.6,175.7 197.4,170.9 203.0,177.8" fill="#33e3e8"/>
<polygon points="185.9,180.5 180.2,173.7 186.0,168.9 191.6,175.7" fill="#33e7cd"/>
<polygon points="163.0,176.5 157.3,170.1 163.1,165.5 168.8,171.8" fill="#35eda1"/>
<polygon points="151.6,174.8 145.8,168.6 151.6,164.0 157.3,170.1" fill="#39ec8d"/>
<polygon points="140.1,173.2 134.4,167.2 140.1,162.7 145.8,168.6" fill="#3deb7c"/>
<polygon points="128.7,171.8 122.9,166.0 128.6,161.5 134.4,167.2" fill="#3feb6d"/>
<polygon points="105.7,169.4 100.0,164.0 105.7,159.7 111.4,164.9" fill="#44ea59"/>
<polygon points="174.5,178.4 168.8,171.8 174.5,167.1 180.2,173.7" fill="#33ebb6"/>
<polygon points="145.9,179.5 140.1,173.2 145.8,168.6 151.6,174.8" fill="#35eda5"/>
<polygon points="111.5,175.0 105.7,169.4 111.4,164.9 117.2,170.5" fill="#3deb79"/>
<polygon points="202.9,190.0 197.3,182.7 203.0,177.8 208.6,185.0" fill="#33cdff"/>
<polygon points="191.5,187.6 185.9,180.5 191.6,175.7 197.3,182.7" fill="#33dfff"/>
<polygon points="180.1,185.4 174.5,178.4 180.2,173.7 185.9,180.5" fill="#33e3e5"/>
<polygon points="157.3,181.3 151.6,174.8 157.3,170.1 163.0,176.5" fill="#33eab8"/>
<polygon points="123.0,176.4 117.2,170.5 122.9,166.0 128.7,171.8" fill="#3beb85"/>
<polygon points="168.7,183.3 163.0,176.5 168.8,171.8 174.5,178.4" fill="#33e7cd"/>
<polygon points="134.4,177.9 128.7,171.8 134.4,167.2 140.1,173.2" fill="#38ec94"/>
<polygon points="197.1,195.1 191.5,187.6 197.3,182.7 202.9,190.0" fill="#33bfff"/>
<polygon points="185.8,192.6 180.1,185.4 185.9,180.5 191.5,187.6" fill="#33d1ff"/>
<polygon points="174.4,190.3 168.7,183.3 174.5,178.4 180.1,185.4" fill="#33e0fc"/>
<polygon points="163.0,188.1 157.3,181.3 163.0,176.5 168.7,183.3" fill="#33e3e4"/>
<polygon points="151.6,186.1 145.9,179.5 151.6,174.8 157.3,181.3" fill="#33e7cf"/>
<polygon points="140.1,184.3 134.4,177.9 140.1,173.2 145.9,179.5" fill="#33eabc"/>
<polygon points="117.3,181.0 111.5,175.0 117.2,170.5 123.0,176.4" fill="#36ec9d"/>
<polygon points="128.7,182.6 123.0,176.4 128.7,171.8 134.4,177.9" fill="#33edac"/>
<polygon points="145.9,191.0 140.1,184.3 145.9,179.5 151.6,186.1" fill="#33e3e6"/>
<polygon points="134.4,189.0 128.7,182.6 134.4,177.9 140.1,184.3" fill="#33e6d3"/>
<polygon points="191.4,200.2 185.8,192.6 191.5,187.6 197.1,195.1" fill="#33b0ff"/>
<polygon points="180.0,197.6 174.4,190.3 180.1,185.4 185.8,192.6" fill="#33c2ff"/>
<polygon points="168.7,195.2 163.0,188.1 168.7,183.3 174.4,190.3" fill="#33d2ff"/>
<polygon points="157.3,193.0 151.6,186.1 157.3,181.3 163.0,188.1" fill="#33e0fb"/>
<polygon points="123.0,187.3 117.3,181.0 123.0,176.4 128.7,182.6" fill="#33e9c2"/>
<polygon points="174.3,202.7 168.7,195.2 174.4,190.3 180.0,197.6" fill="#33b3ff"/>
<polygon points="163.0,200.2 157.3,193.0 163.0,188.1 168.7,195.2" fill="#33c4ff"/>
<polygon points="128.8,193.9 123.0,187.3 128.7,182.6 134.4,189.0" fill="#33e2ea"/>
<polygon points="185.7,205.3 180.0,197.6 185.8,192.6 191.4,200.2" fill="#33a1ff"/>
<polygon points="151.6,198.0 145.9,191.0 151.6,186.1 157.3,193.0" fill="#33d3ff"/>
<polygon points="140.2,195.8 134.4,189.0 140.1,184.3 145.9,191.0" fill="#33dffd"/>
<polygon points="180.0,210.5 174.3,202.7 180.0,197.6 185.7,205.3" fill="#3392ff"/>
<polygon points="168.6,207.8 163.0,200.2 168.7,195.2 174.3,202.7" fill="#33a5ff"/>
<polygon points="157.3,205.3 151.6,198.0 157.3,193.0 163.0,200.2" fill="#33b5ff"/>
<polygon points="145.9,203.0 140.2,195.8 145.9,191.0 151.6,198.0" fill="#33c4ff"/>
<polygon points="134.5,200.8 128.8,193.9 134.4,189.0 140.2,195.8" fill="#33d1ff"/>
<polygon points="174.3,215.7 168.6,207.8 174.3,202.7 180.0,210.5" fill="#3383ff"/>
<polygon points="163.0,212.9 157.3,205.3 163.0,200.2 168.6,207.8" fill="#3395ff"/>
<polygon points="151.6,210.4 145.9,203.0 151.6,198.0 157.3,205.3" fill="#33a6ff"/>
<polygon points="140.2,208.0 134.5,200.8 140.2,195.8 145.9,203.0" fill="#33b5ff"/>
<polygon points="168.6,220.9 163.0,212.9 168.6,207.8 174.3,215.7" fill="#3578fe"/>
<polygon points="157.3,218.1 151.6,210.4 157.3,205.3 163.0,212.9" fill="#3385ff"/>
<polygon points="145.9,215.5 140.2,208.0 145.9,203.0 151.6,210.4" fill="#3396ff"/>
<polygon points="163.0,226.2 157.3,218.1 163.0,212.9 168.6,220.9" fill="#376dfd"/>
<polygon points="151.6,223.4 145.9,215.5 151.6,210.4 157.3,218.1" fill="#357afe"/>
<polygon points="157.3,231.6 151.6,223.4 157.3,218.1 163.0,226.2" fill="#3962fd"/>
</g>
<line x1="417.8" y1="192.5" x2="521.2" y2="140.7" stroke="#3a3a3a" stroke-width="0.8"/>
<line x1="623.4" y1="192.5" x2="521.2" y2="140.7" stroke="#3a3a3a" stroke-width="0.8"/>
<line x1="416.1" y1="162.6" x2="521.1" y2="113.6" stroke="#3a3a3a" stroke-width="0.8"/>
<line x1="625.0" y1="162.6" x2="521.1" y2="113.6" stroke="#3a3a3a" stroke-width="0.8"/>
<line x1="414.4" y1="132.6" x2="521.0" y2="86.4" stroke="#3a3a3a" stroke-width="0.8"/>
<line x1="626.7" y1="132.7" x2="521.0" y2="86.4" stroke="#3a3a3a" stroke-width="0.8"/>
<line x1="412.7" y1="102.6" x2="520.9" y2="59.3" stroke="#3a3a3a" stroke-width="0.8"/>
<line x1="628.3" y1="102.9" x2="520.9" y2="59.3" stroke="#3a3a3a" stroke-width="0.8"/>
<line x1="411.0" y1="72.7" x2="520.8" y2="32.1" stroke="#3a3a3a" stroke-width="0.8"/>
<line x1="630.0" y1="73.0" x2="520.8" y2="32.1" stroke="#3a3a3a" stroke-width="0.8"/>
<line x1="438.5" y1="182.2" x2="433.0" y2="64.6" stroke="#3a3a3a" stroke-width="0.8"/>
<line x1="603.0" y1="182.2" x2="608.2" y2="64.8" stroke="#3a3a3a" stroke-width="0.8"/>
<line x1="459.1" y1="171.8" x2="454.9" y2="56.4" stroke="#3a3a3a" stroke-width="0.8"/>
<line x1="582.5" y1="171.8" x2="586.3" y2="56.6" stroke="#3a3a3a" stroke-width="0.8"/>
<line x1="479.8" y1="161.4" x2="476.9" y2="48.3" stroke="#3a3a3a" stroke-width="0.8"/>
<line x1="562.1" y1="161.4" x2="564.5" y2="48.4" stroke="#3a3a3a" stroke-width="0.8"/>
<line x1="500.5" y1="151.1" x2="498.9" y2="40.2" stroke="#3a3a3a" stroke-width="0.8"/>
<line x1="541.6" y1="151.1" x2="542.7" y2="40.3" stroke="#3a3a3a" stroke-width="0.8"/>
<line x1="521.2" y1="140.7" x2="520.8" y2="32.1" stroke="#3a3a3a" stroke-width="0.8"/>
<line x1="419.9" y1="230.1" x2="411.0" y2="72.7" stroke="#3a3a3a" stroke-width="0.8"/>
<line x1="621.3" y1="230.0" x2="630.0" y2="73.0" stroke="#3a3a3a" stroke-width="0.8"/>
<polygon points="520.6,298.1 419.9,230.1 521.3,174.8 621.3,230.0" fill="#5e5e5e" stroke="#333" stroke-width="0.6"/>
<polyline points="503.8,286.8 505.3,285.8 506.9,284.8 508.4,283.9 510.0,282.9 511.0,282.2 512.6,281.3 514.1,280.3 515.6,279.3 517.2,278.4 518.7,277.4 520.3,276.4 521.8,275.5 523.4,274.5 524.9,273.5 526.5,272.5 528.0,271.6 529.5,270.6 531.1,269.6 532.6,268.7 534.2,267.7 535.6,266.8 536.8,266.1 538.3,265.1 539.8,264.1 541.4,263.2 542.9,262.2 544.5,261.2 546.0,260.2 547.6,259.3 549.1,258.3 550.6,257.3 552.2,256.4 553.7,255.4 555.3,254.4 556.8,253.4 558.4,252.5 559.9,251.5 561.3,250.6 562.5,249.9 564.0,248.9 565.6,247.9 567.1,246.9 568.6,246.0 570.2,245.0 571.7,244.0 573.3,243.0 574.8,242.1 576.4,241.1 577.9,240.1 579.4,239.1 581.0,238.2 582.5,237.2 584.1,236.2 585.6,235.2 587.1,234.3 588.2,233.6 589.7,232.6 591.3,231.6 592.8,230.7 594.3,229.7 595.9,228.7 597.4,227.7 599.0,226.8 600.5,225.8 602.0,224.8 603.6,223.8 605.1,222.8 606.7,221.9" fill="none" stroke="#2a8ad8" stroke-width="1.3"/>
<polyline points="486.8,275.3 487.9,274.7 489.4,273.7 491.0,272.8 492.6,271.9 494.1,271.0 495.7,270.0 497.2,269.1 498.8,268.2 500.4,267.3 501.9,266.3 503.5,265.4 504.5,264.8 506.1,263.9 507.7,262.9 509.2,262.0 510.8,261.1 512.3,260.2 513.9,259.2 515.5,258.3 517.0,257.4 518.6,256.4 520.2,255.5 521.2,254.9 522.8,254.0 524.3,253.0 525.9,252.1 527.4,251.2 529.0,250.2 530.6,249.3 532.1,248.4 533.7,247.4 535.2,246.5 536.8,245.6 537.8,245.0 539.4,244.0 541.0,243.1 542.5,242.2 544.1,241.2 545.6,240.3 547.2,239.4 548.8,238.4 550.3,237.5 551.9,236.6 553.4,235.6 554.6,234.9 556.0,234.1 557.6,233.1 559.2,232.2 560.7,231.3 562.3,230.3 563.8,229.4 565.4,228.5 566.9,227.5 568.5,226.6 570.1,225.6 571.6,224.7 572.7,224.1 574.2,223.1 575.8,222.2 577.3,221.3 578.9,220.3 580.4,219.4 582.0,218.5 583.6,217.5 585.1,216.6 586.7,215.6 588.2,214.7 589.8,213.8 590.8,213.1" fill="none" stroke="#2ac4a8" stroke-width="1.3"/>
<polyline points="466.7,261.7 468.3,260.8 469.9,260.0 471.5,259.1 473.1,258.2 474.7,257.3 476.2,256.5 477.8,255.6 478.9,255.0 480.5,254.1 482.1,253.3 483.6,252.4 485.2,251.5 486.8,250.6 488.4,249.8 489.5,249.2 491.0,248.3 492.6,247.4 494.2,246.5 495.8,245.7 497.4,244.8 499.0,243.9 500.6,243.0 501.6,242.4 503.2,241.6 504.8,240.7 506.4,239.8 507.9,238.9 509.5,238.0 511.1,237.2 512.7,236.3 513.7,235.7 515.3,234.8 516.9,233.9 518.5,233.1 520.1,232.2 521.7,231.3 523.2,230.4 524.8,229.5 525.9,228.9 527.5,228.0 529.0,227.2 530.6,226.3 532.2,225.4 533.8,224.5 535.4,223.6 536.9,222.7 538.0,222.1 539.6,221.3 541.2,220.4 542.7,219.5 544.3,218.6 545.9,217.7 547.5,216.8 549.1,215.9 550.1,215.3 551.7,214.4 553.3,213.6 554.8,212.7 556.4,211.8 558.0,210.9 559.6,210.0 561.2,209.1 562.3,208.4 563.8,207.6 565.4,206.7 566.9,205.8 568.5,204.9 570.1,204.0 571.7,203.1" fill="none" stroke="#38c238" stroke-width="1.3"/>
<polyline points="446.7,248.2 448.3,247.4 450.0,246.6 451.6,245.7 452.7,245.2 454.3,244.4 455.9,243.6 457.5,242.8 459.1,241.9 460.4,241.3 461.8,240.6 463.5,239.8 465.1,239.0 466.7,238.1 468.3,237.3 469.4,236.8 471.0,236.0 472.6,235.1 474.3,234.3 475.9,233.5 476.9,232.9 478.6,232.1 480.2,231.3 481.8,230.5 483.4,229.7 485.0,228.8 486.1,228.3 487.7,227.5 489.3,226.6 490.9,225.8 492.6,225.0 493.6,224.4 495.2,223.6 496.9,222.8 498.5,221.9 500.1,221.1 501.7,220.3 502.8,219.7 504.4,218.9 506.0,218.1 507.6,217.2 509.2,216.4 510.8,215.6 511.9,215.0 513.5,214.2 515.1,213.3 516.7,212.5 518.3,211.7 519.9,210.8 521.0,210.3 522.6,209.4 524.2,208.6 525.8,207.8 527.4,206.9 529.0,206.1 530.1,205.5 531.7,204.7 533.3,203.9 534.9,203.0 536.5,202.2 538.1,201.3 539.2,200.8 540.8,199.9 542.4,199.1 544.0,198.2 545.6,197.4 547.2,196.6 548.3,196.0 549.9,195.1 551.5,194.3 553.1,193.5" fill="none" stroke="#c8d030" stroke-width="1.3"/>
<polyline points="425.4,233.8 426.5,233.3 428.2,232.6 429.9,231.8 431.0,231.3 432.7,230.6 434.4,229.9 436.0,229.2 437.2,228.7 438.9,227.9 440.6,227.2 441.7,226.7 443.4,226.0 445.1,225.2 446.5,224.6 447.8,224.0 449.5,223.2 451.2,222.5 452.3,222.0 454.0,221.3 455.7,220.5 457.3,219.8 458.5,219.3 460.1,218.5 461.8,217.8 462.9,217.3 464.6,216.5 466.3,215.8 467.9,215.0 469.0,214.5 470.7,213.7 472.4,213.0 474.0,212.2 475.1,211.7 476.8,211.0 478.5,210.2 480.1,209.4 481.2,208.9 482.9,208.2 484.6,207.4 486.1,206.7 487.3,206.1 489.0,205.4 490.6,204.6 492.1,203.9 493.4,203.3 495.1,202.5 496.7,201.8 498.2,201.0 499.5,200.5 501.1,199.7 502.8,198.9 504.4,198.2 505.5,197.6 507.2,196.9 508.8,196.1 510.5,195.3 511.6,194.8 513.2,194.0 514.9,193.2 516.5,192.4 517.6,191.9 519.3,191.1 520.9,190.4 522.6,189.6 523.7,189.0 525.3,188.3 526.9,187.5 528.6,186.7 530.2,185.9 531.3,185.4 533.0,184.6 534.6,183.8 536.3,183.0" fill="none" stroke="#e09434" stroke-width="1.3"/>
<circle cx="417.78" cy="192.52" r="1" fill="#000"/>
<circle cx="416.09" cy="162.55" r="1" fill="#000"/>
<circle cx="414.39" cy="132.59" r="1" fill="#000"/>
<circle cx="412.70" cy="102.63" r="1" fill="#000"/>
<circle cx="411.01" cy="72.66" r="1" fill="#000"/>
<circle cx="520.55" cy="298.09" r="1" fill="#000"/>
<circle cx="520.55" cy="298.09" r="1" fill="#000"/>
<circle cx="500.42" cy="284.48" r="1" fill="#000"/>
<circle cx="540.71" cy="284.46" r="1" fill="#000"/>
<circle cx="480.29" cy="270.88" r="1" fill="#000"/>
<circle cx="560.86" cy="270.84" r="1" fill="#000"/>
<circle cx="460.16" cy="257.27" r="1" fill="#000"/>
<circle cx="581.02" cy="257.21" r="1" fill="#000"/>
<circle cx="440.03" cy="243.66" r="1" fill="#000"/>
<circle cx="601.17" cy="243.59" r="1" fill="#000"/>
<circle cx="419.90" cy="230.06" r="1" fill="#000"/>
<circle cx="621.33" cy="229.97" r="1" fill="#000"/>
<circle cx="445.8" cy="138.3" r="2.6" fill="#f8d4d4" stroke="#5a3030" stroke-width="0.7"/>
<circle cx="482.1" cy="193.4" r="2.6" fill="#f8d4d4" stroke="#5a3030" stroke-width="0.7"/>
<circle cx="520.4" cy="34.3" r="2.6" fill="#f8d4d4" stroke="#5a3030" stroke-width="0.7"/>
<g class="s">
<polygon points="520.8,44.8 515.4,39.0 520.9,36.5 526.3,42.3" fill="#f24932"/>
<polygon points="526.3,51.0 520.8,44.8 526.3,42.3 531.7,48.4" fill="#f36233"/>
<polygon points="515.4,47.3 509.9,41.5 515.4,39.0 520.8,44.8" fill="#f24b32"/>
<polygon points="531.7,57.5 526.3,51.0 531.7,48.4 537.1,54.9" fill="#f57c33"/>
<polygon points="520.8,53.5 515.4,47.3 520.8,44.8 526.3,51.0" fill="#f36333"/>
<polygon points="509.9,49.8 504.4,43.9 509.9,41.5 515.4,47.3" fill="#f34d32"/>
<polygon points="515.4,56.1 509.9,49.8 515.4,47.3 520.8,53.5" fill="#f46633"/>
<polygon points="504.5,52.3 499.0,46.4 504.4,43.9 509.9,49.8" fill="#f35032"/>
<polygon points="537.0,64.4 531.7,57.5 537.1,54.9 542.5,61.7" fill="#f89935"/>
<polygon points="526.2,60.1 520.8,53.5 526.3,51.0 531.7,57.5" fill="#f67e34"/>
<polygon points="509.9,58.6 504.5,52.3 509.9,49.8 515.4,56.1" fill="#f46933"/>
<polygon points="542.4,71.5 537.0,64.4 542.5,61.7 547.8,68.8" fill="#f7b234"/>
<polygon points="531.6,67.0 526.2,60.1 531.7,57.5 537.0,64.4" fill="#f89b35"/>
<polygon points="520.8,62.7 515.4,56.1 520.8,53.5 526.2,60.1" fill="#f68134"/>
<polygon points="499.0,54.9 493.5,48.9 499.0,46.4 504.5,52.3" fill="#f35332"/>
<polygon points="537.0,74.1 531.6,67.0 537.0,64.4 542.4,71.5" fill="#f7b433"/>
<polygon points="504.5,61.2 499.0,54.9 504.5,52.3 509.9,58.6" fill="#f46b33"/>
<polygon points="547.7,78.8 542.4,71.5 547.8,68.8 553.1,76.1" fill="#f6cd33"/>
<polygon points="526.2,69.6 520.8,62.7 526.2,60.1 531.6,67.0" fill="#f89d35"/>
<polygon points="515.4,65.3 509.9,58.6 515.4,56.1 520.8,62.7" fill="#f68334"/>
<polygon points="493.5,57.4 488.0,51.4 493.5,48.9 499.0,54.9" fill="#f35632"/>
<polygon points="520.8,72.2 515.4,65.3 520.8,62.7 526.2,69.6" fill="#f89f35"/>
<polygon points="553.0,86.4 547.7,78.8 553.1,76.1 558.4,83.7" fill="#f5e931"/>
<polygon points="542.3,81.5 537.0,74.1 542.4,71.5 547.7,78.8" fill="#f6cf33"/>
<polygon points="531.6,76.8 526.2,69.6 531.6,67.0 537.0,74.1" fill="#f7b633"/>
<polygon points="509.9,67.9 504.5,61.2 509.9,58.6 515.4,65.3" fill="#f68634"/>
<polygon points="499.0,63.7 493.5,57.4 499.0,54.9 504.5,61.2" fill="#f46e33"/>
<polygon points="488.1,59.9 482.6,53.9 488.0,51.4 493.5,57.4" fill="#f35833"/>
<polygon points="558.2,94.2 553.0,86.4 558.4,83.7 563.6,91.4" fill="#c8ef2c"/>
<polygon points="547.6,89.2 542.3,81.5 547.7,78.8 553.0,86.4" fill="#f5eb31"/>
<polygon points="526.2,79.4 520.8,72.2 526.2,69.6 531.6,76.8" fill="#f7b833"/>
<polygon points="515.4,74.8 509.9,67.9 515.4,65.3 520.8,72.2" fill="#f8a135"/>
<polygon points="504.5,70.5 499.0,63.7 504.5,61.2 509.9,67.9" fill="#f68834"/>
<polygon points="493.6,66.3 488.1,59.9 493.5,57.4 499.0,63.7" fill="#f57033"/>
<polygon points="536.9,84.2 531.6,76.8 537.0,74.1 542.3,81.5" fill="#f6d133"/>
<polygon points="482.6,62.4 477.1,56.4 482.6,53.9 488.1,59.9" fill="#f35b33"/>
<polygon points="542.2,91.9 536.9,84.2 542.3,81.5 547.6,89.2" fill="#f5ec31"/>
<polygon points="531.5,86.9 526.2,79.4 531.6,76.8 536.9,84.2" fill="#f6d233"/>
<polygon points="488.2,68.9 482.6,62.4 488.1,59.9 493.6,66.3" fill="#f57333"/>
<polygon points="477.2,65.0 471.7,58.9 477.1,56.4 482.6,62.4" fill="#f35e33"/>
<polygon points="563.4,102.1 558.2,94.2 563.6,91.4 568.8,99.3" fill="#89ed24"/>
<polygon points="552.9,97.0 547.6,89.2 553.0,86.4 558.2,94.2" fill="#c5ef2b"/>
<polygon points="520.8,82.1 515.4,74.8 520.8,72.2 526.2,79.4" fill="#f7ba33"/>
<polygon points="509.9,77.5 504.5,70.5 509.9,67.9 515.4,74.8" fill="#f8a335"/>
<polygon points="499.1,73.1 493.6,66.3 499.0,63.7 504.5,70.5" fill="#f78b34"/>
<polygon points="536.8,94.6 531.5,86.9 536.9,84.2 542.2,91.9" fill="#f5ee31"/>
<polygon points="482.7,71.4 477.2,65.0 482.6,62.4 488.2,68.9" fill="#f57633"/>
<polygon points="568.6,110.2 563.4,102.1 568.8,99.3 573.9,107.3" fill="#59ea22"/>
<polygon points="558.1,104.9 552.9,97.0 558.2,94.2 563.4,102.1" fill="#86ed24"/>
<polygon points="547.5,99.8 542.2,91.9 547.6,89.2 552.9,97.0" fill="#c2ef2b"/>
<polygon points="526.1,89.6 520.8,82.1 526.2,79.4 531.5,86.9" fill="#f6d433"/>
<polygon points="515.4,84.8 509.9,77.5 515.4,74.8 520.8,82.1" fill="#f7bc33"/>
<polygon points="504.5,80.1 499.1,73.1 504.5,70.5 509.9,77.5" fill="#f8a534"/>
<polygon points="493.7,75.7 488.2,68.9 493.6,66.3 499.1,73.1" fill="#f78d34"/>
<polygon points="471.8,67.5 466.2,61.4 471.7,58.9 477.2,65.0" fill="#f36133"/>
<polygon points="563.3,113.0 558.1,104.9 563.4,102.1 568.6,110.2" fill="#57ea22"/>
<polygon points="531.5,97.4 526.1,89.6 531.5,86.9 536.8,94.6" fill="#f5f031"/>
<polygon points="510.0,87.5 504.5,80.1 509.9,77.5 515.4,84.8" fill="#f7be33"/>
<polygon points="477.3,74.0 471.8,67.5 477.2,65.0 482.7,71.4" fill="#f57833"/>
<polygon points="573.7,118.3 568.6,110.2 573.9,107.3 579.0,115.4" fill="#30e622"/>
<polygon points="552.7,107.8 547.5,99.8 552.9,97.0 558.1,104.9" fill="#83ed24"/>
<polygon points="542.1,102.5 536.8,94.6 542.2,91.9 547.5,99.8" fill="#bfef2b"/>
<polygon points="520.7,92.3 515.4,84.8 520.8,82.1 526.1,89.6" fill="#f6d633"/>
<polygon points="499.1,82.8 493.7,75.7 499.1,73.1 504.5,80.1" fill="#f8a734"/>
<polygon points="488.2,78.3 482.7,71.4 488.2,68.9 493.7,75.7" fill="#f79034"/>
<polygon points="466.3,70.1 460.8,63.9 466.2,61.4 471.8,67.5" fill="#f36333"/>
<polygon points="493.7,85.4 488.2,78.3 493.7,75.7 499.1,82.8" fill="#f8a934"/>
<polygon points="471.9,76.6 466.3,70.1 471.8,67.5 477.3,74.0" fill="#f57b33"/>
<polygon points="460.9,72.6 455.3,66.4 460.8,63.9 466.3,70.1" fill="#f46533"/>
<polygon points="578.8,126.5 573.7,118.3 579.0,115.4 584.1,123.5" fill="#1ae64e"/>
<polygon points="568.4,121.2 563.3,113.0 568.6,110.2 573.7,118.3" fill="#2ee622"/>
<polygon points="557.9,115.9 552.7,107.8 558.1,104.9 563.3,113.0" fill="#55e922"/>
<polygon points="547.4,110.6 542.1,102.5 547.5,99.8 552.7,107.8" fill="#80ec23"/>
<polygon points="536.8,105.3 531.5,97.4 536.8,94.6 542.1,102.5" fill="#bbef2a"/>
<polygon points="526.1,100.1 520.7,92.3 526.1,89.6 531.5,97.4" fill="#f4f131"/>
<polygon points="515.4,95.1 510.0,87.5 515.4,84.8 520.7,92.3" fill="#f6d832"/>
<polygon points="504.6,90.1 499.1,82.8 504.5,80.1 510.0,87.5" fill="#f7c033"/>
<polygon points="482.8,80.9 477.3,74.0 482.7,71.4 488.2,78.3" fill="#f79235"/>
<polygon points="583.9,134.7 578.8,126.5 584.1,123.5 589.2,131.7" fill="#0ce991"/>
<polygon points="573.5,129.4 568.4,121.2 573.7,118.3 578.8,126.5" fill="#19e751"/>
<polygon points="552.6,118.7 547.4,110.6 552.7,107.8 557.9,115.9" fill="#53e922"/>
<polygon points="542.1,113.4 536.8,105.3 542.1,102.5 547.4,110.6" fill="#7cec23"/>
<polygon points="531.4,108.1 526.1,100.1 531.5,97.4 536.8,105.3" fill="#b8ef2a"/>
<polygon points="520.7,102.9 515.4,95.1 520.7,92.3 526.1,100.1" fill="#f2f131"/>
<polygon points="499.2,92.8 493.7,85.4 499.1,82.8 504.6,90.1" fill="#f7c133"/>
<polygon points="488.3,88.0 482.8,80.9 488.2,78.3 493.7,85.4" fill="#f7ab34"/>
<polygon points="477.4,83.5 471.9,76.6 477.3,74.0 482.8,80.9" fill="#f79435"/>
<polygon points="466.4,79.2 460.9,72.6 466.3,70.1 471.9,76.6" fill="#f67d33"/>
<polygon points="563.1,124.1 557.9,115.9 563.3,113.0 568.4,121.2" fill="#2de622"/>
<polygon points="510.0,97.8 504.6,90.1 510.0,87.5 515.4,95.1" fill="#f6da32"/>
<polygon points="455.4,75.2 449.9,69.0 455.3,66.4 460.9,72.6" fill="#f46833"/>
<polygon points="568.2,132.4 563.1,124.1 568.4,121.2 573.5,129.4" fill="#19e753"/>
<polygon points="557.8,127.0 552.6,118.7 557.9,115.9 563.1,124.1" fill="#2be622"/>
<polygon points="547.3,121.6 542.1,113.4 547.4,110.6 552.6,118.7" fill="#51e922"/>
<polygon points="515.4,105.6 510.0,97.8 515.4,95.1 520.7,102.9" fill="#eef130"/>
<polygon points="504.6,100.5 499.2,92.8 504.6,90.1 510.0,97.8" fill="#f6db32"/>
<polygon points="482.9,90.7 477.4,83.5 482.8,80.9 488.3,88.0" fill="#f7ac34"/>
<polygon points="472.0,86.1 466.4,79.2 471.9,76.6 477.4,83.5" fill="#f89635"/>
<polygon points="461.0,81.8 455.4,75.2 460.9,72.6 466.4,79.2" fill="#f67f34"/>
<polygon points="450.0,77.7 444.4,71.5 449.9,69.0 455.4,75.2" fill="#f46b33"/>
<polygon points="588.9,142.8 583.9,134.7 589.2,131.7 594.2,139.8" fill="#0ae0ce"/>
<polygon points="578.6,137.7 573.5,129.4 578.8,126.5 583.9,134.7" fill="#0ce993"/>
<polygon points="536.7,116.2 531.4,108.1 536.8,105.3 542.1,113.4" fill="#7aec23"/>
<polygon points="526.1,110.9 520.7,102.9 526.1,100.1 531.4,108.1" fill="#b5ef2a"/>
<polygon points="493.8,95.5 488.3,88.0 493.7,85.4 499.2,92.8" fill="#f7c333"/>
<polygon points="593.9,151.0 588.9,142.8 594.2,139.8 599.2,147.9" fill="#0ad2ff"/>
<polygon points="583.7,145.9 578.6,137.7 583.9,134.7 588.9,142.8" fill="#0ae0d0"/>
<polygon points="573.3,140.6 568.2,132.4 573.5,129.4 578.6,137.7" fill="#0be994"/>
<polygon points="563.0,135.3 557.8,127.0 563.1,124.1 568.2,132.4" fill="#18e755"/>
<polygon points="552.5,129.9 547.3,121.6 552.6,118.7 557.8,127.0" fill="#29e622"/>
<polygon points="542.0,124.5 536.7,116.2 542.1,113.4 547.3,121.6" fill="#50e922"/>
<polygon points="531.4,119.1 526.1,110.9 531.4,108.1 536.7,116.2" fill="#77ec22"/>
<polygon points="520.7,113.7 515.4,105.6 520.7,102.9 526.1,110.9" fill="#b1ee29"/>
<polygon points="510.0,108.4 504.6,100.5 510.0,97.8 515.4,105.6" fill="#ebf130"/>
<polygon points="499.2,103.2 493.8,95.5 499.2,92.8 504.6,100.5" fill="#f6dc32"/>
<polygon points="488.4,98.2 482.9,90.7 488.3,88.0 493.8,95.5" fill="#f7c433"/>
<polygon points="477.5,93.3 472.0,86.1 477.4,83.5 482.9,90.7" fill="#f7ae34"/>
<polygon points="466.6,88.7 461.0,81.8 466.4,79.2 472.0,86.1" fill="#f89935"/>
<polygon points="455.6,84.4 450.0,77.7 455.4,75.2 461.0,81.8" fill="#f68234"/>
<polygon points="444.6,80.3 439.0,74.0 444.4,71.5 450.0,77.7" fill="#f46d33"/>
<polygon points="588.7,154.0 583.7,145.9 588.9,142.8 593.9,151.0" fill="#0ad1ff"/>
<polygon points="557.7,138.2 552.5,129.9 557.8,127.0 563.0,135.3" fill="#18e758"/>
<polygon points="536.7,127.3 531.4,119.1 536.7,116.2 542.0,124.5" fill="#4ee922"/>
<polygon points="504.6,111.2 499.2,103.2 504.6,100.5 510.0,108.4" fill="#e7f02f"/>
<polygon points="483.0,100.9 477.5,93.3 482.9,90.7 488.4,98.2" fill="#f6c633"/>
<polygon points="598.9,159.0 593.9,151.0 599.2,147.9 604.1,155.9" fill="#0aadff"/>
<polygon points="578.4,148.9 573.3,140.6 578.6,137.7 583.7,145.9" fill="#0ae0d2"/>
<polygon points="568.1,143.6 563.0,135.3 568.2,132.4 573.3,140.6" fill="#0be996"/>
<polygon points="547.2,132.8 542.0,124.5 547.3,121.6 552.5,129.9" fill="#28e522"/>
<polygon points="526.0,121.9 520.7,113.7 526.1,110.9 531.4,119.1" fill="#74ec22"/>
<polygon points="515.4,116.5 510.0,108.4 515.4,105.6 520.7,113.7" fill="#aeee29"/>
<polygon points="493.8,105.9 488.4,98.2 493.8,95.5 499.2,103.2" fill="#f6de32"/>
<polygon points="472.1,96.0 466.6,88.7 472.0,86.1 477.5,93.3" fill="#f7b034"/>
<polygon points="461.1,91.4 455.6,84.4 461.0,81.8 466.6,88.7" fill="#f89b35"/>
<polygon points="450.2,87.0 444.6,80.3 450.0,77.7 455.6,84.4" fill="#f68434"/>
<polygon points="439.1,82.9 433.5,76.6 439.0,74.0 444.6,80.3" fill="#f47033"/>
<polygon points="488.5,108.7 483.0,100.9 488.4,98.2 493.8,105.9" fill="#f6e032"/>
<polygon points="444.7,89.6 439.1,82.9 444.6,80.3 450.2,87.0" fill="#f68734"/>
<polygon points="433.7,85.4 428.1,79.1 433.5,76.6 439.1,82.9" fill="#f57333"/>
<polygon points="603.8,166.9 598.9,159.0 604.1,155.9 609.1,163.7" fill="#0a8bff"/>
<polygon points="593.7,162.1 588.7,154.0 593.9,151.0 598.9,159.0" fill="#0aadff"/>
<polygon points="583.4,157.1 578.4,148.9 583.7,145.9 588.7,154.0" fill="#0ad0ff"/>
<polygon points="573.2,151.9 568.1,143.6 573.3,140.6 578.4,148.9" fill="#0adfd3"/>
<polygon points="562.8,146.6 557.7,138.2 563.0,135.3 568.1,143.6" fill="#0ae999"/>
<polygon points="552.4,141.2 547.2,132.8 552.5,129.9 557.7,138.2" fill="#17e75a"/>
<polygon points="541.9,135.7 536.7,127.3 542.0,124.5 547.2,132.8" fill="#26e522"/>
<polygon points="531.3,130.2 526.0,121.9 531.4,119.1 536.7,127.3" fill="#4ce922"/>
<polygon points="520.7,124.7 515.4,116.5 520.7,113.7 526.0,121.9" fill="#72ec22"/>
<polygon points="510.0,119.3 504.6,111.2 510.0,108.4 515.4,116.5" fill="#abee28"/>
<polygon points="499.3,113.9 493.8,105.9 499.2,103.2 504.6,111.2" fill="#e3f02f"/>
<polygon points="477.6,103.6 472.1,96.0 477.5,93.3 483.0,100.9" fill="#f6c833"/>
<polygon points="466.7,98.7 461.1,91.4 466.6,88.7 472.1,96.0" fill="#f7b234"/>
<polygon points="455.7,94.0 450.2,87.0 455.6,84.4 461.1,91.4" fill="#f89d35"/>
<polygon points="608.8,174.6 603.8,166.9 609.1,163.7 614.0,171.4" fill="#0a69ff"/>
<polygon points="598.6,170.0 593.7,162.1 598.9,159.0 603.8,166.9" fill="#0a8aff"/>
<polygon points="588.5,165.2 583.4,157.1 588.7,154.0 593.7,162.1" fill="#0aacff"/>
<polygon points="578.2,160.1 573.2,151.9 578.4,148.9 583.4,157.1" fill="#0acfff"/>
<polygon points="567.9,154.9 562.8,146.6 568.1,143.6 573.2,151.9" fill="#0adfd5"/>
<polygon points="557.5,149.6 552.4,141.2 557.7,138.2 562.8,146.6" fill="#0ae99b"/>
<polygon points="547.1,144.1 541.9,135.7 547.2,132.8 552.4,141.2" fill="#17e75d"/>
<polygon points="526.0,133.1 520.7,124.7 526.0,121.9 531.3,130.2" fill="#4be822"/>
<polygon points="515.4,127.6 510.0,119.3 515.4,116.5 520.7,124.7" fill="#70ec22"/>
<polygon points="504.7,122.1 499.3,113.9 504.6,111.2 510.0,119.3" fill="#a8ee28"/>
<polygon points="493.9,116.7 488.5,108.7 493.8,105.9 499.3,113.9" fill="#e0f02f"/>
<polygon points="472.2,106.3 466.7,98.7 472.1,96.0 477.6,103.6" fill="#f6ca33"/>
<polygon points="450.3,96.6 444.7,89.6 450.2,87.0 455.7,94.0" fill="#f89f35"/>
<polygon points="439.3,92.2 433.7,85.4 439.1,82.9 444.7,89.6" fill="#f78a34"/>
<polygon points="536.6,138.6 531.3,130.2 536.7,127.3 541.9,135.7" fill="#24e522"/>
<polygon points="483.1,111.4 477.6,103.6 483.0,100.9 488.5,108.7" fill="#f6e132"/>
<polygon points="461.3,101.3 455.7,94.0 461.1,91.4 466.7,98.7" fill="#f7b434"/>
<polygon points="428.3,88.0 422.7,81.7 428.1,79.1 433.7,85.4" fill="#f57533"/>
<polygon points="613.7,182.1 608.8,174.6 614.0,171.4 618.9,178.9" fill="#0e53fd"/>
<polygon points="593.4,173.1 588.5,165.2 593.7,162.1 598.6,170.0" fill="#0a89ff"/>
<polygon points="583.2,168.3 578.2,160.1 583.4,157.1 588.5,165.2" fill="#0aabff"/>
<polygon points="573.0,163.2 567.9,154.9 573.2,151.9 578.2,160.1" fill="#0aceff"/>
<polygon points="541.8,147.1 536.6,138.6 541.9,135.7 547.1,144.1" fill="#16e75f"/>
<polygon points="531.3,141.5 526.0,133.1 531.3,130.2 536.6,138.6" fill="#23e522"/>
<polygon points="520.7,136.0 515.4,127.6 520.7,124.7 526.0,133.1" fill="#49e822"/>
<polygon points="499.3,124.9 493.9,116.7 499.3,113.9 504.7,122.1" fill="#a5ee28"/>
<polygon points="488.6,119.4 483.1,111.4 488.5,108.7 493.9,116.7" fill="#dcf02e"/>
<polygon points="477.7,114.1 472.2,106.3 477.6,103.6 483.1,111.4" fill="#f5e332"/>
<polygon points="466.8,109.0 461.3,101.3 466.7,98.7 472.2,106.3" fill="#f6cc33"/>
<polygon points="444.9,99.2 439.3,92.2 444.7,89.6 450.3,96.6" fill="#f8a135"/>
<polygon points="433.9,94.8 428.3,88.0 433.7,85.4 439.3,92.2" fill="#f78c34"/>
<polygon points="422.9,90.6 417.2,84.2 422.7,81.7 428.3,88.0" fill="#f57833"/>
<polygon points="603.6,177.8 598.6,170.0 603.8,166.9 608.8,174.6" fill="#0a69ff"/>
<polygon points="562.6,158.0 557.5,149.6 562.8,146.6 567.9,154.9" fill="#0adfd7"/>
<polygon points="552.3,152.6 547.1,144.1 552.4,141.2 557.5,149.6" fill="#0ae99d"/>
<polygon points="510.0,130.4 504.7,122.1 510.0,119.3 515.4,127.6" fill="#6eec22"/>
<polygon points="455.9,104.0 450.3,96.6 455.7,94.0 461.3,101.3" fill="#f7b633"/>
<polygon points="618.6,189.4 613.7,182.1 618.9,178.9 623.7,186.1" fill="#123efb"/>
<polygon points="608.5,185.3 603.6,177.8 608.8,174.6 613.7,182.1" fill="#0e53fd"/>
<polygon points="598.4,180.9 593.4,173.1 598.6,170.0 603.6,177.8" fill="#0a68ff"/>
<polygon points="588.2,176.3 583.2,168.3 588.5,165.2 593.4,173.1" fill="#0a89ff"/>
<polygon points="578.0,171.4 573.0,163.2 578.2,160.1 583.2,168.3" fill="#0aabff"/>
<polygon points="567.7,166.3 562.6,158.0 567.9,154.9 573.0,163.2" fill="#0acdff"/>
<polygon points="547.0,155.6 541.8,147.1 547.1,144.1 552.3,152.6" fill="#0ae89f"/>
<polygon points="536.5,150.0 531.3,141.5 536.6,138.6 541.8,147.1" fill="#16e762"/>
<polygon points="526.0,144.5 520.7,136.0 526.0,133.1 531.3,141.5" fill="#22e524"/>
<polygon points="515.4,138.9 510.0,130.4 515.4,127.6 520.7,136.0" fill="#47e822"/>
<polygon points="494.0,127.7 488.6,119.4 493.9,116.7 499.3,124.9" fill="#a1ee27"/>
<polygon points="483.2,122.2 477.7,114.1 483.1,111.4 488.6,119.4" fill="#d9f02e"/>
<polygon points="472.4,116.9 466.8,109.0 472.2,106.3 477.7,114.1" fill="#f5e532"/>
<polygon points="461.5,111.7 455.9,104.0 461.3,101.3 466.8,109.0" fill="#f6ce33"/>
<polygon points="439.5,101.9 433.9,94.8 439.3,92.2 444.9,99.2" fill="#f8a334"/>
<polygon points="428.5,97.4 422.9,90.6 428.3,88.0 433.9,94.8" fill="#f78f34"/>
<polygon points="417.4,93.2 411.8,86.8 417.2,84.2 422.9,90.6" fill="#f57b33"/>
<polygon points="557.4,161.0 552.3,152.6 557.5,149.6 562.6,158.0" fill="#0aded9"/>
<polygon points="504.7,133.2 499.3,124.9 504.7,122.1 510.0,130.4" fill="#6ceb22"/>
<polygon points="450.5,106.7 444.9,99.2 450.3,96.6 455.9,104.0" fill="#f7b833"/>
<polygon points="583.0,179.4 578.0,171.4 583.2,168.3 588.2,176.3" fill="#0a88ff"/>
<polygon points="562.5,169.3 557.4,161.0 562.6,158.0 567.7,166.3" fill="#0accff"/>
<polygon points="531.2,153.0 526.0,144.5 531.3,141.5 536.5,150.0" fill="#15e763"/>
<polygon points="510.1,141.7 504.7,133.2 510.0,130.4 515.4,138.9" fill="#46e822"/>
<polygon points="477.8,125.0 472.4,116.9 477.7,114.1 483.2,122.2" fill="#d6f02d"/>
<polygon points="434.1,104.5 428.5,97.4 433.9,94.8 439.5,101.9" fill="#f8a534"/>
<polygon points="423.1,100.0 417.4,93.2 422.9,90.6 428.5,97.4" fill="#f79135"/>
<polygon points="613.4,192.6 608.5,185.3 613.7,182.1 618.6,189.4" fill="#123efb"/>
<polygon points="603.3,188.5 598.4,180.9 603.6,177.8 608.5,185.3" fill="#0e52fd"/>
<polygon points="593.2,184.1 588.2,176.3 593.4,173.1 598.4,180.9" fill="#0a68ff"/>
<polygon points="572.8,174.5 567.7,166.3 573.0,163.2 578.0,171.4" fill="#0aaaff"/>
<polygon points="552.1,164.0 547.0,155.6 552.3,152.6 557.4,161.0" fill="#0adedb"/>
<polygon points="541.7,158.6 536.5,150.0 541.8,147.1 547.0,155.6" fill="#0ae8a1"/>
<polygon points="520.7,147.4 515.4,138.9 520.7,136.0 526.0,144.5" fill="#21e526"/>
<polygon points="499.4,136.1 494.0,127.7 499.3,124.9 504.7,133.2" fill="#6aeb22"/>
<polygon points="488.6,130.5 483.2,122.2 488.6,119.4 494.0,127.7" fill="#9eee27"/>
<polygon points="467.0,119.6 461.5,111.7 466.8,109.0 472.4,116.9" fill="#f5e732"/>
<polygon points="456.1,114.4 450.5,106.7 455.9,104.0 461.5,111.7" fill="#f6cf33"/>
<polygon points="445.1,109.3 439.5,101.9 444.9,99.2 450.5,106.7" fill="#f7ba33"/>
<polygon points="608.3,195.8 603.3,188.5 608.5,185.3 613.4,192.6" fill="#123dfb"/>
<polygon points="598.2,191.7 593.2,184.1 598.4,180.9 603.3,188.5" fill="#0e52fd"/>
<polygon points="588.0,187.3 583.0,179.4 588.2,176.3 593.2,184.1" fill="#0a68ff"/>
<polygon points="567.6,177.6 562.5,169.3 567.7,166.3 572.8,174.5" fill="#0aa9ff"/>
<polygon points="536.5,161.6 531.2,153.0 536.5,150.0 541.7,158.6" fill="#0ae8a3"/>
<polygon points="526.0,156.0 520.7,147.4 526.0,144.5 531.2,153.0" fill="#15e766"/>
<polygon points="515.4,150.3 510.1,141.7 515.4,138.9 520.7,147.4" fill="#21e529"/>
<polygon points="483.3,133.3 477.8,125.0 483.2,122.2 488.6,130.5" fill="#9bee27"/>
<polygon points="472.5,127.8 467.0,119.6 472.4,116.9 477.8,125.0" fill="#d2f02d"/>
<polygon points="450.7,117.1 445.1,109.3 450.5,106.7 456.1,114.4" fill="#f6d133"/>
<polygon points="439.7,112.0 434.1,104.5 439.5,101.9 445.1,109.3" fill="#f7bc33"/>
<polygon points="428.7,107.2 423.1,100.0 428.5,97.4 434.1,104.5" fill="#f8a734"/>
<polygon points="577.8,182.6 572.8,174.5 578.0,171.4 583.0,179.4" fill="#0a87ff"/>
<polygon points="557.3,172.4 552.1,164.0 557.4,161.0 562.5,169.3" fill="#0acbff"/>
<polygon points="546.9,167.0 541.7,158.6 547.0,155.6 552.1,164.0" fill="#0adedc"/>
<polygon points="504.8,144.6 499.4,136.1 504.7,133.2 510.1,141.7" fill="#44e822"/>
<polygon points="494.1,138.9 488.6,130.5 494.0,127.7 499.4,136.1" fill="#68eb22"/>
<polygon points="461.6,122.3 456.1,114.4 461.5,111.7 467.0,119.6" fill="#f5e831"/>
<polygon points="603.1,199.1 598.2,191.7 603.3,188.5 608.3,195.8" fill="#123dfb"/>
<polygon points="593.0,194.9 588.0,187.3 593.2,184.1 598.2,191.7" fill="#0e52fd"/>
<polygon points="562.4,180.7 557.3,172.4 562.5,169.3 567.6,177.6" fill="#0aa8ff"/>
<polygon points="552.0,175.5 546.9,167.0 552.1,164.0 557.3,172.4" fill="#0acaff"/>
<polygon points="499.5,147.5 494.1,138.9 499.4,136.1 504.8,144.6" fill="#42e822"/>
<polygon points="445.3,119.8 439.7,112.0 445.1,109.3 450.7,117.1" fill="#f6d333"/>
<polygon points="582.8,190.4 577.8,182.6 583.0,179.4 588.0,187.3" fill="#0a67ff"/>
<polygon points="572.6,185.7 567.6,177.6 572.8,174.5 577.8,182.6" fill="#0a87ff"/>
<polygon points="541.6,170.1 536.5,161.6 541.7,158.6 546.9,167.0" fill="#0adede"/>
<polygon points="531.2,164.5 526.0,156.0 531.2,153.0 536.5,161.6" fill="#0ae7a5"/>
<polygon points="520.7,158.9 515.4,150.3 520.7,147.4 526.0,156.0" fill="#14e768"/>
<polygon points="488.7,141.8 483.3,133.3 488.6,130.5 494.1,138.9" fill="#66eb22"/>
<polygon points="478.0,136.1 472.5,127.8 477.8,125.0 483.3,133.3" fill="#97ed26"/>
<polygon points="467.1,130.5 461.6,122.3 467.0,119.6 472.5,127.8" fill="#cff02d"/>
<polygon points="456.3,125.1 450.7,117.1 456.1,114.4 461.6,122.3" fill="#f5ea31"/>
<polygon points="434.3,114.7 428.7,107.2 434.1,104.5 439.7,112.0" fill="#f7be33"/>
<polygon points="510.1,153.2 504.8,144.6 510.1,141.7 515.4,150.3" fill="#20e52c"/>
<polygon points="598.0,202.3 593.0,194.9 598.2,191.7 603.1,199.1" fill="#123dfb"/>
<polygon points="587.8,198.1 582.8,190.4 588.0,187.3 593.0,194.9" fill="#0e51fd"/>
<polygon points="577.7,193.6 572.6,185.7 577.8,182.6 582.8,190.4" fill="#0b67ff"/>
<polygon points="567.4,188.8 562.4,180.7 567.6,177.6 572.6,185.7" fill="#0a86ff"/>
<polygon points="557.1,183.8 552.0,175.5 557.3,172.4 562.4,180.7" fill="#0aa8ff"/>
<polygon points="546.8,178.5 541.6,170.1 546.9,167.0 552.0,175.5" fill="#0ac9ff"/>
<polygon points="515.4,161.9 510.1,153.2 515.4,150.3 520.7,158.9" fill="#14e76b"/>
<polygon points="504.8,156.1 499.5,147.5 504.8,144.6 510.1,153.2" fill="#20e52e"/>
<polygon points="494.1,150.4 488.7,141.8 494.1,138.9 499.5,147.5" fill="#40e822"/>
<polygon points="461.8,133.3 456.3,125.1 461.6,122.3 467.1,130.5" fill="#cbef2c"/>
<polygon points="450.9,127.8 445.3,119.8 450.7,117.1 456.3,125.1" fill="#f5ec31"/>
<polygon points="439.9,122.5 434.3,114.7 439.7,112.0 445.3,119.8" fill="#f6d533"/>
<polygon points="536.4,173.1 531.2,164.5 536.5,161.6 541.6,170.1" fill="#0adddf"/>
<polygon points="525.9,167.5 520.7,158.9 526.0,156.0 531.2,164.5" fill="#0ae7a7"/>
<polygon points="483.4,144.6 478.0,136.1 483.3,133.3 488.7,141.8" fill="#64eb22"/>
<polygon points="472.6,138.9 467.1,130.5 472.5,127.8 478.0,136.1" fill="#94ed26"/>
<polygon points="456.4,136.1 450.9,127.8 456.3,125.1 461.8,133.3" fill="#c7ef2c"/>
<polygon points="592.8,205.5 587.8,198.1 593.0,194.9 598.0,202.3" fill="#123dfb"/>
<polygon points="582.7,201.3 577.7,193.6 582.8,190.4 587.8,198.1" fill="#0e51fd"/>
<polygon points="572.5,196.8 567.4,188.8 572.6,185.7 577.7,193.6" fill="#0b66ff"/>
<polygon points="562.2,192.0 557.1,183.8 562.4,180.7 567.4,188.8" fill="#0a85ff"/>
<polygon points="551.9,186.9 546.8,178.5 552.0,175.5 557.1,183.8" fill="#0aa7ff"/>
<polygon points="541.6,181.6 536.4,173.1 541.6,170.1 546.8,178.5" fill="#0ac8ff"/>
<polygon points="520.7,170.5 515.4,161.9 520.7,158.9 525.9,167.5" fill="#0ae7a9"/>
<polygon points="510.1,164.8 504.8,156.1 510.1,153.2 515.4,161.9" fill="#13e86d"/>
<polygon points="499.5,159.1 494.1,150.4 499.5,147.5 504.8,156.1" fill="#1fe531"/>
<polygon points="488.8,153.3 483.4,144.6 488.7,141.8 494.1,150.4" fill="#3ee722"/>
<polygon points="467.3,141.8 461.8,133.3 467.1,130.5 472.6,138.9" fill="#91ed25"/>
<polygon points="445.5,130.6 439.9,122.5 445.3,119.8 450.9,127.8" fill="#f5ee31"/>
<polygon points="531.1,176.1 525.9,167.5 531.2,164.5 536.4,173.1" fill="#0adde1"/>
<polygon points="478.1,147.5 472.6,138.9 478.0,136.1 483.4,144.6" fill="#63eb22"/>
<polygon points="536.3,184.7 531.1,176.1 536.4,173.1 541.6,181.6" fill="#0ac7ff"/>
<polygon points="504.8,167.8 499.5,159.1 504.8,156.1 510.1,164.8" fill="#13e870"/>
<polygon points="462.0,144.6 456.4,136.1 461.8,133.3 467.3,141.8" fill="#8eed25"/>
<polygon points="451.1,138.9 445.5,130.6 450.9,127.8 456.4,136.1" fill="#c4ef2b"/>
<polygon points="587.6,208.8 582.7,201.3 587.8,198.1 592.8,205.5" fill="#123cfb"/>
<polygon points="577.5,204.5 572.5,196.8 577.7,193.6 582.7,201.3" fill="#0e51fd"/>
<polygon points="567.3,200.0 562.2,192.0 567.4,188.8 572.5,196.8" fill="#0b66ff"/>
<polygon points="557.0,195.1 551.9,186.9 557.1,183.8 562.2,192.0" fill="#0a84ff"/>
<polygon points="546.7,190.0 541.6,181.6 546.8,178.5 551.9,186.9" fill="#0aa6ff"/>
<polygon points="525.9,179.2 520.7,170.5 525.9,167.5 531.1,176.1" fill="#0adde3"/>
<polygon points="515.4,173.5 510.1,164.8 515.4,161.9 520.7,170.5" fill="#0ae6ab"/>
<polygon points="494.2,162.0 488.8,153.3 494.1,150.4 499.5,159.1" fill="#1ee633"/>
<polygon points="483.5,156.2 478.1,147.5 483.4,144.6 488.8,153.3" fill="#3ce722"/>
<polygon points="472.8,150.4 467.3,141.8 472.6,138.9 478.1,147.5" fill="#61ea22"/>
<polygon points="582.5,212.0 577.5,204.5 582.7,201.3 587.6,208.8" fill="#123cfb"/>
<polygon points="572.3,207.7 567.3,200.0 572.5,196.8 577.5,204.5" fill="#0e50fd"/>
<polygon points="562.1,203.1 557.0,195.1 562.2,192.0 567.3,200.0" fill="#0b65ff"/>
<polygon points="551.8,198.3 546.7,190.0 551.9,186.9 557.0,195.1" fill="#0a84ff"/>
<polygon points="541.5,193.1 536.3,184.7 541.6,181.6 546.7,190.0" fill="#0aa5ff"/>
<polygon points="531.1,187.8 525.9,179.2 531.1,176.1 536.3,184.7" fill="#0ac6ff"/>
<polygon points="510.1,176.5 504.8,167.8 510.1,164.8 515.4,173.5" fill="#0ae6ad"/>
<polygon points="499.6,170.8 494.2,162.0 499.5,159.1 504.8,167.8" fill="#12e872"/>
<polygon points="478.2,159.1 472.8,150.4 478.1,147.5 483.5,156.2" fill="#3be722"/>
<polygon points="467.5,153.2 462.0,144.6 467.3,141.8 472.8,150.4" fill="#5fea22"/>
<polygon points="456.6,147.4 451.1,138.9 456.4,136.1 462.0,144.6" fill="#8bed25"/>
<polygon points="520.7,182.2 515.4,173.5 520.7,170.5 525.9,179.2" fill="#0adce5"/>
<polygon points="488.9,164.9 483.5,156.2 488.8,153.3 494.2,162.0" fill="#1ee636"/>
<polygon points="577.3,215.3 572.3,207.7 577.5,204.5 582.5,212.0" fill="#123cfb"/>
<polygon points="567.1,211.0 562.1,203.1 567.3,200.0 572.3,207.7" fill="#0e50fd"/>
<polygon points="536.3,196.2 531.1,187.8 536.3,184.7 541.5,193.1" fill="#0aa4ff"/>
<polygon points="525.9,190.8 520.7,182.2 525.9,179.2 531.1,187.8" fill="#0ac5ff"/>
<polygon points="472.9,162.0 467.5,153.2 472.8,150.4 478.2,159.1" fill="#39e722"/>
<polygon points="556.9,206.3 551.8,198.3 557.0,195.1 562.1,203.1" fill="#0b65ff"/>
<polygon points="546.6,201.4 541.5,193.1 546.7,190.0 551.8,198.3" fill="#0a83ff"/>
<polygon points="515.4,185.3 510.1,176.5 515.4,173.5 520.7,182.2" fill="#0adce7"/>
<polygon points="504.9,179.6 499.6,170.8 504.8,167.8 510.1,176.5" fill="#0ae5af"/>
<polygon points="494.3,173.7 488.9,164.9 494.2,162.0 499.6,170.8" fill="#12e875"/>
<polygon points="483.6,167.9 478.2,159.1 483.5,156.2 488.9,164.9" fill="#1de638"/>
<polygon points="462.1,156.1 456.6,147.4 462.0,144.6 467.5,153.2" fill="#5dea22"/>
<polygon points="572.2,218.5 567.1,211.0 572.3,207.7 577.3,215.3" fill="#123cfb"/>
<polygon points="562.0,214.2 556.9,206.3 562.1,203.1 567.1,211.0" fill="#0f50fd"/>
<polygon points="551.7,209.5 546.6,201.4 551.8,198.3 556.9,206.3" fill="#0b65ff"/>
<polygon points="541.4,204.5 536.3,196.2 541.5,193.1 546.6,201.4" fill="#0a82ff"/>
<polygon points="531.1,199.3 525.9,190.8 531.1,187.8 536.3,196.2" fill="#0aa3ff"/>
<polygon points="520.6,193.9 515.4,185.3 520.7,182.2 525.9,190.8" fill="#0ac4ff"/>
<polygon points="499.6,182.6 494.3,173.7 499.6,170.8 504.9,179.6" fill="#0ae5b1"/>
<polygon points="489.0,176.7 483.6,167.9 488.9,164.9 494.3,173.7" fill="#11e877"/>
<polygon points="478.3,170.8 472.9,162.0 478.2,159.1 483.6,167.9" fill="#1de63b"/>
<polygon points="467.6,164.9 462.1,156.1 467.5,153.2 472.9,162.0" fill="#37e722"/>
<polygon points="510.2,188.3 504.9,179.6 510.1,176.5 515.4,185.3" fill="#0adce9"/>
<polygon points="483.7,179.7 478.3,170.8 483.6,167.9 489.0,176.7" fill="#11e87a"/>
<polygon points="567.0,221.7 562.0,214.2 567.1,211.0 572.2,218.5" fill="#123cfb"/>
<polygon points="556.8,217.4 551.7,209.5 556.9,206.3 562.0,214.2" fill="#0f4ffd"/>
<polygon points="546.5,212.7 541.4,204.5 546.6,201.4 551.7,209.5" fill="#0b64ff"/>
<polygon points="525.9,202.4 520.6,193.9 525.9,190.8 531.1,199.3" fill="#0aa2ff"/>
<polygon points="515.4,197.0 510.2,188.3 515.4,185.3 520.6,193.9" fill="#0ac3ff"/>
<polygon points="504.9,191.3 499.6,182.6 504.9,179.6 510.2,188.3" fill="#0adbeb"/>
<polygon points="494.4,185.6 489.0,176.7 494.3,173.7 499.6,182.6" fill="#0ae5b3"/>
<polygon points="473.1,173.7 467.6,164.9 472.9,162.0 478.3,170.8" fill="#1ce63e"/>
<polygon points="536.2,207.7 531.1,199.3 536.3,196.2 541.4,204.5" fill="#0a82ff"/>
<polygon points="510.2,200.1 504.9,191.3 510.2,188.3 515.4,197.0" fill="#0ac3ff"/>
<polygon points="478.5,182.7 473.1,173.7 478.3,170.8 483.7,179.7" fill="#10e87b"/>
<polygon points="561.9,225.0 556.8,217.4 562.0,214.2 567.0,221.7" fill="#123bfb"/>
<polygon points="551.6,220.6 546.5,212.7 551.7,209.5 556.8,217.4" fill="#0f4ffd"/>
<polygon points="541.4,215.9 536.2,207.7 541.4,204.5 546.5,212.7" fill="#0b64fe"/>
<polygon points="520.6,205.6 515.4,197.0 520.6,193.9 525.9,202.4" fill="#0aa1ff"/>
<polygon points="489.1,188.6 483.7,179.7 489.0,176.7 494.4,185.6" fill="#0ae4b5"/>
<polygon points="531.0,210.8 525.9,202.4 531.1,199.3 536.2,207.7" fill="#0a81ff"/>
<polygon points="499.7,194.4 494.4,185.6 499.6,182.6 504.9,191.3" fill="#0adbec"/>
<polygon points="556.7,228.2 551.6,220.6 556.8,217.4 561.9,225.0" fill="#123bfb"/>
<polygon points="546.5,223.8 541.4,215.9 546.5,212.7 551.6,220.6" fill="#0f4ffd"/>
<polygon points="536.2,219.0 531.0,210.8 536.2,207.7 541.4,215.9" fill="#0b63fe"/>
<polygon points="525.8,214.0 520.6,205.6 525.9,202.4 531.0,210.8" fill="#0a80ff"/>
<polygon points="515.4,208.7 510.2,200.1 515.4,197.0 520.6,205.6" fill="#0aa1ff"/>
<polygon points="505.0,203.1 499.7,194.4 504.9,191.3 510.2,200.1" fill="#0ac2ff"/>
<polygon points="483.9,191.6 478.5,182.7 483.7,179.7 489.1,188.6" fill="#0ae4b7"/>
<polygon points="494.4,197.4 489.1,188.6 494.4,185.6 499.7,194.4" fill="#0adbee"/>
<polygon points="510.2,211.8 505.0,203.1 510.2,200.1 515.4,208.7" fill="#0aa0ff"/>
<polygon points="499.7,206.2 494.4,197.4 499.7,194.4 505.0,203.1" fill="#0ac1ff"/>
<polygon points="551.5,231.5 546.5,223.8 551.6,220.6 556.7,228.2" fill="#123bfb"/>
<polygon points="541.3,227.0 536.2,219.0 541.4,215.9 546.5,223.8" fill="#0f4efd"/>
<polygon points="531.0,222.2 525.8,214.0 531.0,210.8 536.2,219.0" fill="#0b63fe"/>
<polygon points="520.6,217.1 515.4,208.7 520.6,205.6 525.8,214.0" fill="#0a7fff"/>
<polygon points="489.2,200.5 483.9,191.6 489.1,188.6 494.4,197.4" fill="#0adbf0"/>
<polygon points="536.1,230.2 531.0,222.2 536.2,219.0 541.3,227.0" fill="#0f4efd"/>
<polygon points="525.8,225.4 520.6,217.1 525.8,214.0 531.0,222.2" fill="#0b63fe"/>
<polygon points="494.5,209.3 489.2,200.5 494.4,197.4 499.7,206.2" fill="#0ac0ff"/>
<polygon points="546.4,234.7 541.3,227.0 546.5,223.8 551.5,231.5" fill="#123bfb"/>
<polygon points="515.4,220.3 510.2,211.8 515.4,208.7 520.6,217.1" fill="#0a7fff"/>
<polygon points="505.0,214.9 499.7,206.2 505.0,203.1 510.2,211.8" fill="#0a9fff"/>
<polygon points="541.2,237.9 536.1,230.2 541.3,227.0 546.4,234.7" fill="#123bfb"/>
<polygon points="531.0,233.4 525.8,225.4 531.0,222.2 536.1,230.2" fill="#0f4efd"/>
<polygon points="520.6,228.6 515.4,220.3 520.6,217.1 525.8,225.4" fill="#0b63fe"/>
<polygon points="510.2,223.4 505.0,214.9 510.2,211.8 515.4,220.3" fill="#0a7eff"/>
<polygon points="499.8,218.0 494.5,209.3 499.7,206.2 505.0,214.9" fill="#0a9eff"/>
<polygon points="536.1,241.2 531.0,233.4 536.1,230.2 541.2,237.9" fill="#123afb"/>
<polygon points="525.8,236.6 520.6,228.6 525.8,225.4 531.0,233.4" fill="#0f4efd"/>
<polygon points="515.4,231.8 510.2,223.4 515.4,220.3 520.6,228.6" fill="#0b63fe"/>
<polygon points="505.0,226.6 499.8,218.0 505.0,214.9 510.2,223.4" fill="#0a7dff"/>
<polygon points="530.9,244.4 525.8,236.6 531.0,233.4 536.1,241.2" fill="#123afb"/>
<polygon points="520.6,239.8 515.4,231.8 520.6,228.6 525.8,236.6" fill="#0f4dfd"/>
<polygon points="510.3,234.9 505.0,226.6 510.2,223.4 515.4,231.8" fill="#0b62fe"/>
<polygon points="525.8,247.7 520.6,239.8 525.8,236.6 530.9,244.4" fill="#123afb"/>
<polygon points="515.5,243.1 510.3,234.9 515.4,231.8 520.6,239.8" fill="#0f4dfc"/>
<polygon points="520.6,250.9 515.5,243.1 520.6,239.8 525.8,247.7" fill="#123afb"/>
</g>
<line x1="217.4" y1="533.5" x2="329.6" y2="484.8" stroke="#3a3a3a" stroke-width="0.8"/>
<line x1="440.0" y1="533.6" x2="329.6" y2="484.8" stroke="#3a3a3a" stroke-width="0.8"/>
<line x1="215.7" y1="504.9" x2="329.4" y2="458.8" stroke="#3a3a3a" stroke-width="0.8"/>
<line x1="441.6" y1="505.1" x2="329.4" y2="458.8" stroke="#3a3a3a" stroke-width="0.8"/>
<line x1="214.0" y1="476.3" x2="329.3" y2="432.8" stroke="#3a3a3a" stroke-width="0.8"/>
<line x1="443.3" y1="476.5" x2="329.3" y2="432.8" stroke="#3a3a3a" stroke-width="0.8"/>
<line x1="212.2" y1="447.7" x2="329.2" y2="406.8" stroke="#3a3a3a" stroke-width="0.8"/>
<line x1="444.9" y1="448.0" x2="329.2" y2="406.8" stroke="#3a3a3a" stroke-width="0.8"/>
<line x1="210.5" y1="419.1" x2="329.0" y2="380.8" stroke="#3a3a3a" stroke-width="0.8"/>
<line x1="446.6" y1="419.4" x2="329.0" y2="380.8" stroke="#3a3a3a" stroke-width="0.8"/>
<line x1="239.9" y1="523.7" x2="234.2" y2="411.5" stroke="#3a3a3a" stroke-width="0.8"/>
<line x1="417.9" y1="523.8" x2="423.1" y2="411.7" stroke="#3a3a3a" stroke-width="0.8"/>
<line x1="262.3" y1="514.0" x2="257.9" y2="403.8" stroke="#3a3a3a" stroke-width="0.8"/>
<line x1="395.8" y1="514.1" x2="399.6" y2="404.0" stroke="#3a3a3a" stroke-width="0.8"/>
<line x1="284.7" y1="504.3" x2="281.6" y2="396.1" stroke="#3a3a3a" stroke-width="0.8"/>
<line x1="373.7" y1="504.3" x2="376.0" y2="396.3" stroke="#3a3a3a" stroke-width="0.8"/>
<line x1="307.2" y1="494.6" x2="305.3" y2="388.5" stroke="#3a3a3a" stroke-width="0.8"/>
<line x1="351.7" y1="494.6" x2="352.5" y2="388.5" stroke="#3a3a3a" stroke-width="0.8"/>
<line x1="329.6" y1="484.8" x2="329.0" y2="380.8" stroke="#3a3a3a" stroke-width="0.8"/>
<line x1="219.7" y1="569.7" x2="210.5" y2="419.1" stroke="#3a3a3a" stroke-width="0.8"/>
<line x1="437.9" y1="569.7" x2="446.6" y2="419.4" stroke="#3a3a3a" stroke-width="0.8"/>
<polygon points="328.7,634.7 219.7,569.7 329.8,517.8 437.9,569.7" fill="#5e5e5e" stroke="#333" stroke-width="0.6"/>
<polyline points="320.5,629.8 322.4,629.0 324.2,628.1 325.5,627.6 327.3,626.7 329.2,625.9 330.4,625.3 332.2,624.5 334.1,623.7 335.3,623.1 337.2,622.3 339.1,621.4 340.3,620.9 342.2,620.1 343.7,619.4 345.3,618.7 347.1,617.8 348.4,617.3 350.3,616.5 352.2,615.6 353.4,615.1 355.3,614.3 356.6,613.7 358.5,612.9 360.3,612.1 361.6,611.5 363.5,610.7 364.8,610.2 366.7,609.3 368.0,608.8 369.9,608.0 371.5,607.3 373.2,606.6 375.0,605.9 376.4,605.3 378.4,604.5 379.7,604.0 381.6,603.2" fill="none" stroke="#30b4a4" stroke-width="1.3"/>
<polyline points="310.9,624.0 312.7,623.2 314.3,622.5 315.8,621.8 317.6,621.0 319.4,620.2 320.6,619.6 322.5,618.8 324.3,618.0 325.5,617.4 327.4,616.6 329.2,615.7 330.5,615.2 332.3,614.4 334.1,613.5 335.4,613.0 337.2,612.2 339.1,611.3 340.3,610.8 342.2,610.0 343.8,609.3 345.3,608.6 347.2,607.8 348.4,607.2 350.3,606.4 352.2,605.6 353.4,605.1 355.3,604.3 356.6,603.7 358.5,602.9 360.4,602.1 361.7,601.6 363.6,600.8 364.9,600.2 366.8,599.5 368.1,598.9 370.0,598.1 371.3,597.6 373.3,596.8 374.7,596.2 376.5,595.5 378.0,594.9 379.8,594.2 381.1,593.7 383.1,592.9 384.5,592.4 386.5,591.6 387.8,591.1 389.8,590.4 391.2,589.9 392.9,589.2 394.6,588.6 395.9,588.1 398.0,587.4 399.4,586.9 400.9,586.3 402.8,585.6 404.2,585.1 405.9,584.5 407.7,583.9 409.1,583.4 410.7,582.9 412.7,582.2 414.1,581.8 415.5,581.3 417.6,580.6 419.2,580.1 420.6,579.6" fill="none" stroke="#34c040" stroke-width="1.3"/>
<polyline points="301.2,618.3 303.0,617.4 304.2,616.9 306.0,616.1 307.8,615.2 309.5,614.5 310.9,613.9 312.7,613.0 314.5,612.2 315.7,611.7 317.5,610.8 319.3,610.0 320.8,609.3 322.4,608.6 324.2,607.8 326.0,607.0 327.2,606.5 329.1,605.6 330.9,604.8 332.1,604.3 334.0,603.5 335.8,602.6 337.0,602.1 338.9,601.3 340.8,600.5 342.0,599.9 343.9,599.1 345.6,598.4 347.0,597.8 348.9,597.0 350.1,596.5 352.0,595.7 353.9,594.9 355.2,594.3 357.1,593.5 358.3,593.0 360.3,592.2 361.6,591.7 363.5,590.9 365.2,590.2 366.7,589.6 368.6,588.9 370.0,588.3 371.9,587.6 373.2,587.1 375.1,586.3 376.5,585.8 378.2,585.2 379.9,584.6 381.2,584.1 383.2,583.3 384.6,582.8 386.6,582.1 388.0,581.6 389.6,581.0 391.4,580.4 392.8,579.9 394.7,579.2 396.3,578.7 397.7,578.2 399.7,577.5 401.2,577.0 402.6,576.6 404.4,576.0 406.2,575.4 407.6,574.9 409.1,574.5 411.0,573.9 412.7,573.3 414.2,572.9 415.7,572.5 417.3,572.0 419.4,571.4 420.9,570.9 422.4,570.5 423.9,570.0 425.4,569.6 427.1,569.1 429.0,568.6 430.8,568.1 432.4,567.7" fill="none" stroke="#8cd030" stroke-width="1.3"/>
<polyline points="289.3,611.2 291.0,610.4 292.3,609.8 294.0,609.0 295.8,608.2 297.6,607.3 298.8,606.8 300.6,606.0 302.4,605.1 304.1,604.3 305.3,603.8 307.1,602.9 308.9,602.1 310.7,601.3 311.9,600.8 313.7,599.9 315.5,599.1 317.3,598.3 318.5,597.8 320.3,596.9 322.1,596.1 323.9,595.3 325.1,594.8 326.9,594.0 328.7,593.1 330.0,592.6 331.8,591.8 333.6,591.0 334.9,590.4 336.7,589.7 338.5,588.9 339.8,588.3 341.6,587.6 343.5,586.8 344.8,586.2 346.6,585.5 348.5,584.7 349.8,584.2 351.7,583.4 353.0,582.9 354.9,582.1 356.2,581.6 358.1,580.8 359.8,580.2 361.3,579.6 363.2,578.9 364.6,578.3 366.4,577.7 367.9,577.1 369.5,576.5 371.2,575.9 372.6,575.4 374.6,574.7 376.0,574.2 378.0,573.5 379.4,573.0 380.8,572.5 382.8,571.8 384.2,571.4 385.8,570.9 387.7,570.2 389.2,569.8 390.6,569.3 392.7,568.7 394.2,568.2 395.6,567.8 397.3,567.2 399.3,566.7 400.7,566.2 402.2,565.8 403.7,565.4 405.6,564.8 407.4,564.3 409.0,563.9 410.5,563.5 412.0,563.1 413.5,562.7 415.2,562.2 417.0,561.8 418.8,561.3" fill="none" stroke="#d8d42c" stroke-width="1.3"/>
<polyline points="275.2,602.8 276.6,602.1 278.1,601.4 279.8,600.6 281.5,599.7 283.3,598.9 285.0,598.1 286.7,597.2 288.2,596.5 289.6,595.8 291.3,595.0 293.0,594.2 294.7,593.3 296.5,592.5 298.2,591.7 299.9,590.9 301.1,590.3 302.8,589.5 304.5,588.6 306.3,587.8 308.0,587.0 309.8,586.2 310.9,585.6 312.7,584.8 314.4,584.0 316.2,583.1 318.0,582.3 319.1,581.8 320.9,581.0 322.7,580.2 324.5,579.4 325.7,578.8 327.5,578.0 329.3,577.3 331.1,576.5 332.3,575.9 334.2,575.2 336.0,574.4 337.3,573.9 339.1,573.1 340.9,572.4 342.3,571.8 344.2,571.1 345.4,570.6 347.4,569.9 348.7,569.4 350.6,568.6 352.1,568.1 353.9,567.4 355.3,566.9 357.2,566.3 358.5,565.8 360.6,565.1 361.9,564.6 363.9,564.0 365.3,563.5 366.7,563.1 368.8,562.4 370.2,562.0 371.7,561.5 373.8,560.9 375.2,560.5 376.7,560.0 378.2,559.6 380.3,559.0 381.8,558.6 383.3,558.2 384.8,557.8 386.4,557.4 388.3,556.9 390.2,556.4 391.7,556.0 393.3,555.7 394.8,555.3 396.4,554.9 398.0,554.6 399.6,554.2 401.2,553.8 402.8,553.5" fill="none" stroke="#e09034" stroke-width="1.3"/>
<polyline points="338.8,522.1 337.1,522.9 335.3,523.7 333.6,524.4 331.9,525.2 330.6,525.7 329.0,526.4 327.2,527.1 325.4,527.9 323.6,528.6 322.4,529.0 320.6,529.8 318.7,530.5 317.5,530.9 315.6,531.6 313.8,532.3 312.5,532.7 310.6,533.4 308.7,534.1 307.5,534.5 305.6,535.2 304.3,535.6 302.4,536.3 301.0,536.7 299.1,537.3 297.4,537.9 295.9,538.4 294.0,538.9 292.6,539.4 290.8,539.9 289.3,540.4 287.6,540.9 285.9,541.4 284.5,541.8 282.6,542.4 281.2,542.8 279.2,543.4 277.9,543.8 275.9,544.3 274.5,544.7 272.5,545.3 271.1,545.7 269.6,546.1" fill="none" stroke="#e09034" stroke-width="1.3"/>
<circle cx="217.44" cy="533.45" r="1" fill="#000"/>
<circle cx="215.70" cy="504.88" r="1" fill="#000"/>
<circle cx="213.95" cy="476.30" r="1" fill="#000"/>
<circle cx="212.21" cy="447.72" r="1" fill="#000"/>
<circle cx="210.46" cy="419.15" r="1" fill="#000"/>
<circle cx="328.69" cy="634.66" r="1" fill="#000"/>
<circle cx="328.69" cy="634.66" r="1" fill="#000"/>
<circle cx="306.88" cy="621.66" r="1" fill="#000"/>
<circle cx="350.52" cy="621.67" r="1" fill="#000"/>
<circle cx="285.08" cy="608.65" r="1" fill="#000"/>
<circle cx="372.36" cy="608.69" r="1" fill="#000"/>
<circle cx="263.27" cy="595.65" r="1" fill="#000"/>
<circle cx="394.19" cy="595.71" r="1" fill="#000"/>
<circle cx="241.46" cy="582.65" r="1" fill="#000"/>
<circle cx="416.02" cy="582.73" r="1" fill="#000"/>
<circle cx="219.65" cy="569.65" r="1" fill="#000"/>
<circle cx="437.85" cy="569.75" r="1" fill="#000"/>
<circle cx="388.6" cy="526.4" r="2.6" fill="#f8d4d4" stroke="#5a3030" stroke-width="0.7"/>
<g class="s">
<polygon points="329.1,410.2 323.3,412.6 329.2,410.9 334.9,408.4" fill="#f8b63b"/>
<polygon points="334.9,408.5 329.1,410.2 334.9,408.4 340.7,406.5" fill="#f89d3c"/>
<polygon points="323.2,412.0 317.5,414.2 323.3,412.6 329.1,410.2" fill="#f8b43b"/>
<polygon points="340.7,407.5 334.9,408.5 340.7,406.5 346.6,405.4" fill="#f7863b"/>
<polygon points="329.0,410.4 323.2,412.0 329.1,410.2 334.9,408.5" fill="#f89c3c"/>
<polygon points="317.4,413.6 311.7,415.7 317.5,414.2 323.2,412.0" fill="#f8b13b"/>
<polygon points="323.2,412.2 317.4,413.6 323.2,412.0 329.0,410.4" fill="#f89b3c"/>
<polygon points="311.5,415.2 305.8,417.2 311.7,415.7 317.4,413.6" fill="#f8ae3b"/>
<polygon points="346.5,407.1 340.7,407.5 346.6,405.4 352.4,404.8" fill="#f5733a"/>
<polygon points="334.8,409.6 329.0,410.4 334.9,408.5 340.7,407.5" fill="#f7853b"/>
<polygon points="317.3,414.0 311.5,415.2 317.4,413.6 323.2,412.2" fill="#f8983c"/>
<polygon points="352.4,407.4 346.5,407.1 352.4,404.8 358.2,404.9" fill="#f46539"/>
<polygon points="340.7,409.3 334.8,409.6 340.7,407.5 346.5,407.1" fill="#f5743a"/>
<polygon points="329.0,411.5 323.2,412.2 329.0,410.4 334.8,409.6" fill="#f7843b"/>
<polygon points="305.7,416.8 299.9,418.6 305.8,417.2 311.5,415.2" fill="#f8ab3b"/>
<polygon points="346.5,409.8 340.7,409.3 346.5,407.1 352.4,407.4" fill="#f46639"/>
<polygon points="311.4,415.7 305.7,416.8 311.5,415.2 317.3,414.0" fill="#f8953c"/>
<polygon points="358.2,408.3 352.4,407.4 358.2,404.9 364.1,405.7" fill="#f35a38"/>
<polygon points="334.8,411.5 329.0,411.5 334.8,409.6 340.7,409.3" fill="#f5743a"/>
<polygon points="323.1,413.4 317.3,414.0 323.2,412.2 329.0,411.5" fill="#f7823b"/>
<polygon points="299.8,418.2 294.1,419.9 299.9,418.6 305.7,416.8" fill="#f8a83b"/>
<polygon points="328.9,413.5 323.1,413.4 329.0,411.5 334.8,411.5" fill="#f5733a"/>
<polygon points="364.1,409.9 358.2,408.3 364.1,405.7 369.9,407.0" fill="#f35538"/>
<polygon points="352.3,410.9 346.5,409.8 352.4,407.4 358.2,408.3" fill="#f35c39"/>
<polygon points="340.6,412.1 334.8,411.5 340.7,409.3 346.5,409.8" fill="#f46639"/>
<polygon points="317.2,415.2 311.4,415.7 317.3,414.0 323.1,413.4" fill="#f7813a"/>
<polygon points="305.6,417.3 299.8,418.2 305.7,416.8 311.4,415.7" fill="#f8913b"/>
<polygon points="293.9,419.7 288.2,421.2 294.1,419.9 299.8,418.2" fill="#f8a43c"/>
<polygon points="369.9,412.0 364.1,409.9 369.9,407.0 375.8,409.0" fill="#f35338"/>
<polygon points="358.2,412.6 352.3,410.9 358.2,408.3 364.1,409.9" fill="#f35838"/>
<polygon points="334.8,414.3 328.9,413.5 334.8,411.5 340.6,412.1" fill="#f46639"/>
<polygon points="323.1,415.5 317.2,415.2 323.1,413.4 328.9,413.5" fill="#f5713a"/>
<polygon points="311.4,417.0 305.6,417.3 311.4,415.7 317.2,415.2" fill="#f67e3a"/>
<polygon points="299.7,418.8 293.9,419.7 299.8,418.2 305.6,417.3" fill="#f88e3b"/>
<polygon points="346.5,413.3 340.6,412.1 346.5,409.8 352.3,410.9" fill="#f45e39"/>
<polygon points="288.1,421.0 282.4,422.4 288.2,421.2 293.9,419.7" fill="#f89f3c"/>
<polygon points="352.3,415.2 346.5,413.3 352.3,410.9 358.2,412.6" fill="#f35a38"/>
<polygon points="340.6,415.7 334.8,414.3 340.6,412.1 346.5,413.3" fill="#f45f39"/>
<polygon points="293.8,420.3 288.1,421.0 293.9,419.7 299.7,418.8" fill="#f78a3b"/>
<polygon points="282.2,422.3 276.5,423.6 282.4,422.4 288.1,421.0" fill="#f89b3c"/>
<polygon points="375.7,414.8 369.9,412.0 375.8,409.0 381.6,411.6" fill="#f35638"/>
<polygon points="364.0,415.0 358.2,412.6 364.1,409.9 369.9,412.0" fill="#f35838"/>
<polygon points="328.9,416.4 323.1,415.5 328.9,413.5 334.8,414.3" fill="#f46639"/>
<polygon points="317.2,417.4 311.4,417.0 317.2,415.2 323.1,415.5" fill="#f5703a"/>
<polygon points="305.5,418.7 299.7,418.8 305.6,417.3 311.4,417.0" fill="#f67b3a"/>
<polygon points="346.4,417.8 340.6,415.7 346.5,413.3 352.3,415.2" fill="#f35c39"/>
<polygon points="287.9,421.8 282.2,422.3 288.1,421.0 293.8,420.3" fill="#f7853b"/>
<polygon points="381.5,418.2 375.7,414.8 381.6,411.6 387.4,414.8" fill="#f35c38"/>
<polygon points="369.8,417.9 364.0,415.0 369.9,412.0 375.7,414.8" fill="#f35a38"/>
<polygon points="358.1,417.8 352.3,415.2 358.2,412.6 364.0,415.0" fill="#f35a38"/>
<polygon points="334.7,418.0 328.9,416.4 334.8,414.3 340.6,415.7" fill="#f46039"/>
<polygon points="323.0,418.5 317.2,417.4 323.1,415.5 328.9,416.4" fill="#f46639"/>
<polygon points="311.3,419.2 305.5,418.7 311.4,417.0 317.2,417.4" fill="#f56d39"/>
<polygon points="299.6,420.3 293.8,420.3 299.7,418.8 305.5,418.7" fill="#f6783a"/>
<polygon points="276.3,423.6 270.6,424.8 276.5,423.6 282.2,422.3" fill="#f8963c"/>
<polygon points="375.6,421.5 369.8,417.9 375.7,414.8 381.5,418.2" fill="#f46239"/>
<polygon points="340.6,420.2 334.7,418.0 340.6,415.7 346.4,417.8" fill="#f45e39"/>
<polygon points="317.1,420.5 311.3,419.2 317.2,417.4 323.0,418.5" fill="#f46539"/>
<polygon points="282.1,423.2 276.3,423.6 282.2,422.3 287.9,421.8" fill="#f7813a"/>
<polygon points="387.3,422.2 381.5,418.2 387.4,414.8 393.2,418.6" fill="#f46639"/>
<polygon points="364.0,420.9 358.1,417.8 364.0,415.0 369.8,417.9" fill="#f45f39"/>
<polygon points="352.3,420.5 346.4,417.8 352.3,415.2 358.1,417.8" fill="#f45d39"/>
<polygon points="328.9,420.2 323.0,418.5 328.9,416.4 334.7,418.0" fill="#f46039"/>
<polygon points="305.4,421.0 299.6,420.3 305.5,418.7 311.3,419.2" fill="#f56b39"/>
<polygon points="293.7,421.9 287.9,421.8 293.8,420.3 299.6,420.3" fill="#f5743a"/>
<polygon points="270.4,424.9 264.7,425.9 270.6,424.8 276.3,423.6" fill="#f8903b"/>
<polygon points="299.6,422.8 293.7,421.9 299.6,420.3 305.4,421.0" fill="#f46839"/>
<polygon points="276.2,424.6 270.4,424.9 276.3,423.6 282.1,423.2" fill="#f67c3a"/>
<polygon points="264.5,426.1 258.8,427.1 264.7,425.9 270.4,424.9" fill="#f78b3b"/>
<polygon points="393.0,426.8 387.3,422.2 393.2,418.6 398.9,423.0" fill="#f5743a"/>
<polygon points="381.4,425.7 375.6,421.5 381.5,418.2 387.3,422.2" fill="#f56e39"/>
<polygon points="369.8,424.7 364.0,420.9 369.8,417.9 375.6,421.5" fill="#f46739"/>
<polygon points="358.1,423.9 352.3,420.5 358.1,417.8 364.0,420.9" fill="#f46339"/>
<polygon points="346.4,423.1 340.6,420.2 346.4,417.8 352.3,420.5" fill="#f46039"/>
<polygon points="334.7,422.6 328.9,420.2 334.7,418.0 340.6,420.2" fill="#f45f39"/>
<polygon points="323.0,422.4 317.1,420.5 323.0,418.5 328.9,420.2" fill="#f45f39"/>
<polygon points="311.3,422.4 305.4,421.0 311.3,419.2 317.1,420.5" fill="#f46339"/>
<polygon points="287.9,423.5 282.1,423.2 287.9,421.8 293.7,421.9" fill="#f5713a"/>
<polygon points="398.7,432.0 393.0,426.8 398.9,423.0 404.6,428.0" fill="#f7863b"/>
<polygon points="387.2,430.5 381.4,425.7 387.3,422.2 393.0,426.8" fill="#f67d3a"/>
<polygon points="363.9,427.8 358.1,423.9 364.0,420.9 369.8,424.7" fill="#f56c39"/>
<polygon points="352.2,426.7 346.4,423.1 352.3,420.5 358.1,423.9" fill="#f46639"/>
<polygon points="340.5,425.7 334.7,422.6 340.6,420.2 346.4,423.1" fill="#f46239"/>
<polygon points="328.8,425.0 323.0,422.4 328.9,420.2 334.7,422.6" fill="#f45f39"/>
<polygon points="305.4,424.3 299.6,422.8 305.4,421.0 311.3,422.4" fill="#f46139"/>
<polygon points="293.7,424.5 287.9,423.5 293.7,421.9 299.6,422.8" fill="#f46639"/>
<polygon points="282.0,425.0 276.2,424.6 282.1,423.2 287.9,423.5" fill="#f56d39"/>
<polygon points="270.3,426.0 264.5,426.1 270.4,424.9 276.2,424.6" fill="#f6773a"/>
<polygon points="375.5,429.1 369.8,424.7 375.6,421.5 381.4,425.7" fill="#f5743a"/>
<polygon points="317.1,424.5 311.3,422.4 317.1,420.5 323.0,422.4" fill="#f45f39"/>
<polygon points="258.6,427.4 252.9,428.2 258.8,427.1 264.5,426.1" fill="#f7853b"/>
<polygon points="381.3,434.1 375.5,429.1 381.4,425.7 387.2,430.5" fill="#f7843b"/>
<polygon points="369.7,432.4 363.9,427.8 369.8,424.7 375.5,429.1" fill="#f67a3a"/>
<polygon points="358.0,430.9 352.2,426.7 358.1,423.9 363.9,427.8" fill="#f5713a"/>
<polygon points="323.0,427.2 317.1,424.5 323.0,422.4 328.8,425.0" fill="#f45f39"/>
<polygon points="311.2,426.5 305.4,424.3 311.3,422.4 317.1,424.5" fill="#f45d39"/>
<polygon points="287.8,426.1 282.0,425.0 287.9,423.5 293.7,424.5" fill="#f46239"/>
<polygon points="276.1,426.5 270.3,426.0 276.2,424.6 282.0,425.0" fill="#f46839"/>
<polygon points="264.4,427.3 258.6,427.4 264.5,426.1 270.3,426.0" fill="#f5733a"/>
<polygon points="252.7,428.6 247.0,429.3 252.9,428.2 258.6,427.4" fill="#f6803a"/>
<polygon points="404.4,437.8 398.7,432.0 404.6,428.0 410.3,433.5" fill="#f89b3c"/>
<polygon points="392.9,435.9 387.2,430.5 393.0,426.8 398.7,432.0" fill="#f88f3b"/>
<polygon points="346.4,429.4 340.5,425.7 346.4,423.1 352.2,426.7" fill="#f56939"/>
<polygon points="334.7,428.2 328.8,425.0 334.7,422.6 340.5,425.7" fill="#f46339"/>
<polygon points="299.5,426.2 293.7,424.5 299.6,422.8 305.4,424.3" fill="#f45e39"/>
<polygon points="410.0,444.1 404.4,437.8 410.3,433.5 415.9,439.6" fill="#f8b13b"/>
<polygon points="398.5,441.9 392.9,435.9 398.7,432.0 404.4,437.8" fill="#f8a53c"/>
<polygon points="387.0,439.8 381.3,434.1 387.2,430.5 392.9,435.9" fill="#f8983c"/>
<polygon points="375.4,437.7 369.7,432.4 375.5,429.1 381.3,434.1" fill="#f78b3b"/>
<polygon points="363.8,435.7 358.0,430.9 363.9,427.8 369.7,432.4" fill="#f67f3a"/>
<polygon points="352.2,433.8 346.4,429.4 352.2,426.7 358.0,430.9" fill="#f5743a"/>
<polygon points="340.5,432.1 334.7,428.2 340.5,425.7 346.4,429.4" fill="#f56b39"/>
<polygon points="328.8,430.7 323.0,427.2 328.8,425.0 334.7,428.2" fill="#f46439"/>
<polygon points="317.1,429.4 311.2,426.5 317.1,424.5 323.0,427.2" fill="#f45f39"/>
<polygon points="305.4,428.5 299.5,426.2 305.4,424.3 311.2,426.5" fill="#f35c38"/>
<polygon points="293.6,428.0 287.8,426.1 293.7,424.5 299.5,426.2" fill="#f35c38"/>
<polygon points="281.9,427.8 276.1,426.5 282.0,425.0 287.8,426.1" fill="#f45f39"/>
<polygon points="270.2,428.0 264.4,427.3 270.3,426.0 276.1,426.5" fill="#f46539"/>
<polygon points="258.5,428.7 252.7,428.6 258.6,427.4 264.4,427.3" fill="#f56e39"/>
<polygon points="246.8,429.8 241.1,430.4 247.0,429.3 252.7,428.6" fill="#f67a3a"/>
<polygon points="404.2,448.4 398.5,441.9 404.4,437.8 410.0,444.1" fill="#f8ba3a"/>
<polygon points="369.6,441.1 363.8,435.7 369.7,432.4 375.4,437.7" fill="#f8913b"/>
<polygon points="346.3,436.7 340.5,432.1 346.4,429.4 352.2,433.8" fill="#f6773a"/>
<polygon points="311.2,431.6 305.4,428.5 311.2,426.5 317.1,429.4" fill="#f45e39"/>
<polygon points="287.8,429.8 281.9,427.8 287.8,426.1 293.6,428.0" fill="#f35938"/>
<polygon points="415.6,450.9 410.0,444.1 415.9,439.6 421.5,446.2" fill="#f7c839"/>
<polygon points="392.7,445.9 387.0,439.8 392.9,435.9 398.5,441.9" fill="#f8ac3b"/>
<polygon points="381.1,443.5 375.4,437.7 381.3,434.1 387.0,439.8" fill="#f89f3c"/>
<polygon points="358.0,438.8 352.2,433.8 358.0,430.9 363.8,435.7" fill="#f7833b"/>
<polygon points="334.7,434.7 328.8,430.7 334.7,428.2 340.5,432.1" fill="#f56d39"/>
<polygon points="323.0,433.0 317.1,429.4 323.0,427.2 328.8,430.7" fill="#f46539"/>
<polygon points="299.5,430.5 293.6,428.0 299.5,426.2 305.4,428.5" fill="#f35a38"/>
<polygon points="276.0,429.4 270.2,428.0 276.1,426.5 281.9,427.8" fill="#f35b38"/>
<polygon points="264.3,429.5 258.5,428.7 264.4,427.3 270.2,428.0" fill="#f46039"/>
<polygon points="252.6,430.0 246.8,429.8 252.7,428.6 258.5,428.7" fill="#f46839"/>
<polygon points="240.9,431.1 235.2,431.5 241.1,430.4 246.8,429.8" fill="#f6743a"/>
<polygon points="293.6,432.4 287.8,429.8 293.6,428.0 299.5,430.5" fill="#f35938"/>
<polygon points="246.7,431.4 240.9,431.1 246.8,429.8 252.6,430.0" fill="#f46439"/>
<polygon points="235.0,432.3 229.3,432.7 235.2,431.5 240.9,431.1" fill="#f5703a"/>
<polygon points="421.1,458.4 415.6,450.9 421.5,446.2 427.0,453.4" fill="#f7e338"/>
<polygon points="409.7,455.5 404.2,448.4 410.0,444.1 415.6,450.9" fill="#f7d339"/>
<polygon points="398.3,452.7 392.7,445.9 398.5,441.9 404.2,448.4" fill="#f8c33a"/>
<polygon points="386.8,449.9 381.1,443.5 387.0,439.8 392.7,445.9" fill="#f8b43b"/>
<polygon points="375.3,447.1 369.6,441.1 375.4,437.7 381.1,443.5" fill="#f8a63c"/>
<polygon points="363.7,444.4 358.0,438.8 363.8,435.7 369.6,441.1" fill="#f8973c"/>
<polygon points="352.1,441.8 346.3,436.7 352.2,433.8 358.0,438.8" fill="#f7883b"/>
<polygon points="340.5,439.5 334.7,434.7 340.5,432.1 346.3,436.7" fill="#f67a3a"/>
<polygon points="328.8,437.3 323.0,433.0 328.8,430.7 334.7,434.7" fill="#f56f39"/>
<polygon points="317.1,435.4 311.2,431.6 317.1,429.4 323.0,433.0" fill="#f46539"/>
<polygon points="305.4,433.7 299.5,430.5 305.4,428.5 311.2,431.6" fill="#f45d39"/>
<polygon points="281.9,431.5 276.0,429.4 281.9,427.8 287.8,429.8" fill="#f35738"/>
<polygon points="270.1,431.0 264.3,429.5 270.2,428.0 276.0,429.4" fill="#f35838"/>
<polygon points="258.4,430.9 252.6,430.0 258.5,428.7 264.3,429.5" fill="#f35c38"/>
<polygon points="426.6,466.3 421.1,458.4 427.0,453.4 432.5,461.1" fill="#d5f033"/>
<polygon points="415.3,463.2 409.7,455.5 415.6,450.9 421.1,458.4" fill="#f6ee37"/>
<polygon points="403.9,460.0 398.3,452.7 404.2,448.4 409.7,455.5" fill="#f7dd38"/>
<polygon points="392.5,456.9 386.8,449.9 392.7,445.9 398.3,452.7" fill="#f7cc39"/>
<polygon points="381.0,453.7 375.3,447.1 381.1,443.5 386.8,449.9" fill="#f8bb3a"/>
<polygon points="369.5,450.6 363.7,444.4 369.6,441.1 375.3,447.1" fill="#f8ab3b"/>
<polygon points="357.9,447.7 352.1,441.8 358.0,438.8 363.7,444.4" fill="#f89b3c"/>
<polygon points="334.6,442.2 328.8,437.3 334.7,434.7 340.5,439.5" fill="#f67d3a"/>
<polygon points="323.0,439.8 317.1,435.4 323.0,433.0 328.8,437.3" fill="#f5703a"/>
<polygon points="311.2,437.7 305.4,433.7 311.2,431.6 317.1,435.4" fill="#f46539"/>
<polygon points="299.5,435.8 293.6,432.4 299.5,430.5 305.4,433.7" fill="#f35c39"/>
<polygon points="276.0,433.3 270.1,431.0 276.0,429.4 281.9,431.5" fill="#f35438"/>
<polygon points="252.5,432.4 246.7,431.4 252.6,430.0 258.4,430.9" fill="#f35838"/>
<polygon points="240.8,432.8 235.0,432.3 240.9,431.1 246.7,431.4" fill="#f45f39"/>
<polygon points="346.3,444.8 340.5,439.5 346.3,436.7 352.1,441.8" fill="#f78c3b"/>
<polygon points="287.7,434.4 281.9,431.5 287.8,429.8 293.6,432.4" fill="#f35738"/>
<polygon points="264.2,432.6 258.4,430.9 264.3,429.5 270.1,431.0" fill="#f35438"/>
<polygon points="229.1,433.6 223.4,433.9 229.3,432.7 235.0,432.3" fill="#f56a39"/>
<polygon points="432.0,474.8 426.6,466.3 432.5,461.1 437.9,469.3" fill="#90ed2c"/>
<polygon points="409.4,467.9 403.9,460.0 409.7,455.5 415.3,463.2" fill="#e5f035"/>
<polygon points="398.1,464.4 392.5,456.9 398.3,452.7 403.9,460.0" fill="#f6e638"/>
<polygon points="386.6,460.9 381.0,453.7 386.8,449.9 392.5,456.9" fill="#f7d339"/>
<polygon points="352.1,450.8 346.3,444.8 352.1,441.8 357.9,447.7" fill="#f89f3c"/>
<polygon points="340.5,447.8 334.6,442.2 340.5,439.5 346.3,444.8" fill="#f88e3b"/>
<polygon points="328.8,444.9 323.0,439.8 328.8,437.3 334.6,442.2" fill="#f67f3a"/>
<polygon points="305.4,439.9 299.5,435.8 305.4,433.7 311.2,437.7" fill="#f46539"/>
<polygon points="293.6,437.9 287.7,434.4 293.6,432.4 299.5,435.8" fill="#f35b38"/>
<polygon points="281.9,436.3 276.0,433.3 281.9,431.5 287.7,434.4" fill="#f35538"/>
<polygon points="270.1,435.0 264.2,432.6 270.1,431.0 276.0,433.3" fill="#f25138"/>
<polygon points="246.6,433.9 240.8,432.8 246.7,431.4 252.5,432.4" fill="#f35438"/>
<polygon points="234.8,434.2 229.1,433.6 235.0,432.3 240.8,432.8" fill="#f35a38"/>
<polygon points="223.2,434.9 217.4,435.1 223.4,433.9 229.1,433.6" fill="#f46639"/>
<polygon points="420.7,471.4 415.3,463.2 421.1,458.4 426.6,466.3" fill="#baef31"/>
<polygon points="375.2,457.5 369.5,450.6 375.3,447.1 381.0,453.7" fill="#f8c13a"/>
<polygon points="363.6,454.1 357.9,447.7 363.7,444.4 369.5,450.6" fill="#f8b03b"/>
<polygon points="317.1,442.3 311.2,437.7 317.1,435.4 323.0,439.8" fill="#f5713a"/>
<polygon points="258.3,434.2 252.5,432.4 258.4,430.9 264.2,432.6" fill="#f25138"/>
<polygon points="437.3,483.7 432.0,474.8 437.9,469.3 443.2,478.0" fill="#60eb2e"/>
<polygon points="426.1,480.1 420.7,471.4 426.6,466.3 432.0,474.8" fill="#76ec29"/>
<polygon points="414.9,476.3 409.4,467.9 415.3,463.2 420.7,471.4" fill="#a1ee2e"/>
<polygon points="403.6,472.5 398.1,464.4 403.9,460.0 409.4,467.9" fill="#cfef32"/>
<polygon points="392.2,468.7 386.6,460.9 392.5,456.9 398.1,464.4" fill="#f6ee37"/>
<polygon points="380.8,464.9 375.2,457.5 381.0,453.7 386.6,460.9" fill="#f7db38"/>
<polygon points="357.8,457.5 352.1,450.8 357.9,447.7 363.6,454.1" fill="#f8b53b"/>
<polygon points="346.3,454.0 340.5,447.8 346.3,444.8 352.1,450.8" fill="#f8a33c"/>
<polygon points="334.6,450.6 328.8,444.9 334.6,442.2 340.5,447.8" fill="#f8913b"/>
<polygon points="323.0,447.5 317.1,442.3 323.0,439.8 328.8,444.9" fill="#f6803a"/>
<polygon points="299.5,442.1 293.6,437.9 299.5,435.8 305.4,439.9" fill="#f46439"/>
<polygon points="287.8,440.0 281.9,436.3 287.7,434.4 293.6,437.9" fill="#f35938"/>
<polygon points="276.0,438.1 270.1,435.0 276.0,433.3 281.9,436.3" fill="#f35338"/>
<polygon points="264.2,436.8 258.3,434.2 264.2,432.6 270.1,435.0" fill="#f24e38"/>
<polygon points="240.7,435.4 234.8,434.2 240.8,432.8 246.6,433.9" fill="#f25038"/>
<polygon points="228.9,435.6 223.2,434.9 229.1,433.6 234.8,434.2" fill="#f35738"/>
<polygon points="217.2,436.3 211.5,436.4 217.4,435.1 223.2,434.9" fill="#f46139"/>
<polygon points="369.4,461.1 363.6,454.1 369.5,450.6 375.2,457.5" fill="#f8c73a"/>
<polygon points="311.3,444.7 305.4,439.9 311.2,437.7 317.1,442.3" fill="#f5713a"/>
<polygon points="252.4,435.8 246.6,433.9 252.5,432.4 258.3,434.2" fill="#f24d38"/>
<polygon points="397.8,477.0 392.2,468.7 398.1,464.4 403.6,472.5" fill="#baef31"/>
<polygon points="375.0,468.8 369.4,461.1 375.2,457.5 380.8,464.9" fill="#f7e138"/>
<polygon points="340.4,457.0 334.6,450.6 340.5,447.8 346.3,454.0" fill="#f8a63b"/>
<polygon points="317.1,450.1 311.3,444.7 317.1,442.3 323.0,447.5" fill="#f7813a"/>
<polygon points="281.9,442.0 276.0,438.1 281.9,436.3 287.8,440.0" fill="#f35938"/>
<polygon points="234.8,437.0 228.9,435.6 234.8,434.2 240.7,435.4" fill="#f24c38"/>
<polygon points="223.0,437.1 217.2,436.3 223.2,434.9 228.9,435.6" fill="#f35338"/>
<polygon points="431.5,489.3 426.1,480.1 432.0,474.8 437.3,483.7" fill="#50e931"/>
<polygon points="420.3,485.3 414.9,476.3 420.7,471.4 426.1,480.1" fill="#68eb2c"/>
<polygon points="409.1,481.2 403.6,472.5 409.4,467.9 414.9,476.3" fill="#8aed2b"/>
<polygon points="386.4,472.9 380.8,464.9 386.6,460.9 392.2,468.7" fill="#ebf136"/>
<polygon points="363.5,464.7 357.8,457.5 363.6,454.1 369.4,461.1" fill="#f7cc39"/>
<polygon points="352.0,460.8 346.3,454.0 352.1,450.8 357.8,457.5" fill="#f8b83a"/>
<polygon points="328.8,453.5 323.0,447.5 328.8,444.9 334.6,450.6" fill="#f8933b"/>
<polygon points="305.4,447.1 299.5,442.1 305.4,439.9 311.3,444.7" fill="#f5713a"/>
<polygon points="293.7,444.4 287.8,440.0 293.6,437.9 299.5,442.1" fill="#f46439"/>
<polygon points="270.1,440.0 264.2,436.8 270.1,435.0 276.0,438.1" fill="#f25038"/>
<polygon points="258.3,438.5 252.4,435.8 258.3,434.2 264.2,436.8" fill="#f24c38"/>
<polygon points="246.5,437.5 240.7,435.4 246.6,433.9 252.4,435.8" fill="#f24a38"/>
<polygon points="425.6,494.8 420.3,485.3 426.1,480.1 431.5,489.3" fill="#41e832"/>
<polygon points="414.5,490.4 409.1,481.2 414.9,476.3 420.3,485.3" fill="#5bea2e"/>
<polygon points="403.3,485.9 397.8,477.0 403.6,472.5 409.1,481.2" fill="#75ec29"/>
<polygon points="380.6,477.0 375.0,468.8 380.8,464.9 386.4,472.9" fill="#daf034"/>
<polygon points="346.2,464.0 340.4,457.0 346.3,454.0 352.0,460.8" fill="#f8bc3a"/>
<polygon points="334.6,460.0 328.8,453.5 334.6,450.6 340.4,457.0" fill="#f8a93b"/>
<polygon points="323.0,456.2 317.1,450.1 323.0,447.5 328.8,453.5" fill="#f8963c"/>
<polygon points="287.8,446.5 281.9,442.0 287.8,440.0 293.7,444.4" fill="#f46339"/>
<polygon points="276.0,444.0 270.1,440.0 276.0,438.1 281.9,442.0" fill="#f35738"/>
<polygon points="252.4,440.3 246.5,437.5 252.4,435.8 258.3,438.5" fill="#f24937"/>
<polygon points="240.6,439.2 234.8,437.0 240.7,435.4 246.5,437.5" fill="#f24737"/>
<polygon points="228.8,438.6 223.0,437.1 228.9,435.6 234.8,437.0" fill="#f24937"/>
<polygon points="392.0,481.5 386.4,472.9 392.2,468.7 397.8,477.0" fill="#a7ee2f"/>
<polygon points="369.2,472.6 363.5,464.7 369.4,461.1 375.0,468.8" fill="#f6e738"/>
<polygon points="357.7,468.2 352.0,460.8 357.8,457.5 363.5,464.7" fill="#f7d139"/>
<polygon points="311.3,452.7 305.4,447.1 311.3,444.7 317.1,450.1" fill="#f7823b"/>
<polygon points="299.6,449.4 293.7,444.4 299.5,442.1 305.4,447.1" fill="#f5723a"/>
<polygon points="264.2,441.9 258.3,438.5 264.2,436.8 270.1,440.0" fill="#f24e38"/>
<polygon points="419.8,500.1 414.5,490.4 420.3,485.3 425.6,494.8" fill="#34e735"/>
<polygon points="408.7,495.4 403.3,485.9 409.1,481.2 414.5,490.4" fill="#4fe931"/>
<polygon points="374.8,481.0 369.2,472.6 375.0,468.8 380.6,477.0" fill="#cbef32"/>
<polygon points="363.4,476.3 357.7,468.2 363.5,464.7 369.2,472.6" fill="#f6ec37"/>
<polygon points="305.4,455.2 299.6,449.4 305.4,447.1 311.3,452.7" fill="#f7833b"/>
<polygon points="246.5,442.1 240.6,439.2 246.5,437.5 252.4,440.3" fill="#f24737"/>
<polygon points="397.5,490.6 392.0,481.5 397.8,477.0 403.3,485.9" fill="#6beb2b"/>
<polygon points="386.2,485.8 380.6,477.0 386.4,472.9 392.0,481.5" fill="#95ed2c"/>
<polygon points="351.9,471.7 346.2,464.0 352.0,460.8 357.7,468.2" fill="#f7d639"/>
<polygon points="340.4,467.2 334.6,460.0 340.4,457.0 346.2,464.0" fill="#f8c03a"/>
<polygon points="328.8,463.0 323.0,456.2 328.8,453.5 334.6,460.0" fill="#f8ab3b"/>
<polygon points="293.7,451.8 287.8,446.5 293.7,444.4 299.6,449.4" fill="#f5723a"/>
<polygon points="281.9,448.7 276.0,444.0 281.9,442.0 287.8,446.5" fill="#f46239"/>
<polygon points="270.1,446.1 264.2,441.9 270.1,440.0 276.0,444.0" fill="#f35638"/>
<polygon points="258.3,443.8 252.4,440.3 258.3,438.5 264.2,441.9" fill="#f24c38"/>
<polygon points="234.7,440.9 228.8,438.6 234.8,437.0 240.6,439.2" fill="#f14437"/>
<polygon points="317.1,459.0 311.3,452.7 317.1,450.1 323.0,456.2" fill="#f8983c"/>
<polygon points="414.0,505.4 408.7,495.4 414.5,490.4 419.8,500.1" fill="#28e63b"/>
<polygon points="402.9,500.3 397.5,490.6 403.3,485.9 408.7,495.4" fill="#44e832"/>
<polygon points="391.7,495.1 386.2,485.8 392.0,481.5 397.5,490.6" fill="#61eb2d"/>
<polygon points="380.4,490.0 374.8,481.0 380.6,477.0 386.2,485.8" fill="#84ec2a"/>
<polygon points="369.1,484.9 363.4,476.3 369.2,472.6 374.8,481.0" fill="#bdef31"/>
<polygon points="357.6,480.0 351.9,471.7 357.7,468.2 363.4,476.3" fill="#f4f137"/>
<polygon points="323.0,465.9 317.1,459.0 323.0,456.2 328.8,463.0" fill="#f8ad3b"/>
<polygon points="311.3,461.7 305.4,455.2 311.3,452.7 317.1,459.0" fill="#f8993c"/>
<polygon points="299.6,457.8 293.7,451.8 299.6,449.4 305.4,455.2" fill="#f7843b"/>
<polygon points="264.3,448.1 258.3,443.8 264.2,441.9 270.1,446.1" fill="#f35438"/>
<polygon points="252.4,445.8 246.5,442.1 252.4,440.3 258.3,443.8" fill="#f24b38"/>
<polygon points="240.6,443.9 234.7,440.9 240.6,439.2 246.5,442.1" fill="#f14437"/>
<polygon points="346.2,475.1 340.4,467.2 346.2,464.0 351.9,471.7" fill="#f7da38"/>
<polygon points="334.6,470.4 328.8,463.0 334.6,460.0 340.4,467.2" fill="#f8c33a"/>
<polygon points="287.9,454.2 281.9,448.7 287.8,446.5 293.7,451.8" fill="#f5723a"/>
<polygon points="276.1,450.9 270.1,446.1 276.0,444.0 281.9,448.7" fill="#f46139"/>
<polygon points="258.4,450.2 252.4,445.8 258.3,443.8 264.3,448.1" fill="#f35338"/>
<polygon points="408.3,510.5 402.9,500.3 408.7,495.4 414.0,505.4" fill="#24e753"/>
<polygon points="397.1,505.1 391.7,495.1 397.5,490.6 402.9,500.3" fill="#3ae734"/>
<polygon points="385.9,499.6 380.4,490.0 386.2,485.8 391.7,495.1" fill="#59ea2f"/>
<polygon points="374.6,494.2 369.1,484.9 374.8,481.0 380.4,490.0" fill="#76ec29"/>
<polygon points="363.3,488.8 357.6,480.0 363.4,476.3 369.1,484.9" fill="#afee30"/>
<polygon points="351.9,483.6 346.2,475.1 351.9,471.7 357.6,480.0" fill="#e9f035"/>
<polygon points="328.8,473.5 323.0,465.9 328.8,463.0 334.6,470.4" fill="#f8c63a"/>
<polygon points="317.2,468.8 311.3,461.7 317.1,459.0 323.0,465.9" fill="#f8b03b"/>
<polygon points="305.5,464.4 299.6,457.8 305.4,455.2 311.3,461.7" fill="#f89b3c"/>
<polygon points="293.8,460.3 287.9,454.2 293.7,451.8 299.6,457.8" fill="#f7843b"/>
<polygon points="270.2,453.1 264.3,448.1 270.1,446.1 276.1,450.9" fill="#f46139"/>
<polygon points="246.6,447.8 240.6,443.9 246.5,442.1 252.4,445.8" fill="#f24937"/>
<polygon points="340.4,478.4 334.6,470.4 340.4,467.2 346.2,475.1" fill="#f7de38"/>
<polygon points="282.0,456.5 276.1,450.9 281.9,448.7 287.9,454.2" fill="#f5713a"/>
<polygon points="346.1,487.1 340.4,478.4 346.2,475.1 351.9,483.6" fill="#def034"/>
<polygon points="311.4,471.7 305.5,464.4 311.3,461.7 317.2,468.8" fill="#f8b23b"/>
<polygon points="264.4,455.4 258.4,450.2 264.3,448.1 270.2,453.1" fill="#f46039"/>
<polygon points="252.5,452.3 246.6,447.8 252.4,445.8 258.4,450.2" fill="#f35238"/>
<polygon points="402.5,515.5 397.1,505.1 402.9,500.3 408.3,510.5" fill="#20e969"/>
<polygon points="391.4,509.8 385.9,499.6 391.7,495.1 397.1,505.1" fill="#30e736"/>
<polygon points="380.2,504.0 374.6,494.2 380.4,490.0 385.9,499.6" fill="#4fe931"/>
<polygon points="368.9,498.3 363.3,488.8 369.1,484.9 374.6,494.2" fill="#6feb2b"/>
<polygon points="357.5,492.6 351.9,483.6 357.6,480.0 363.3,488.8" fill="#a3ee2e"/>
<polygon points="334.6,481.8 328.8,473.5 334.6,470.4 340.4,478.4" fill="#f7e138"/>
<polygon points="323.0,476.6 317.2,468.8 323.0,465.9 328.8,473.5" fill="#f7c939"/>
<polygon points="299.7,467.1 293.8,460.3 299.6,457.8 305.5,464.4" fill="#f89c3c"/>
<polygon points="287.9,462.8 282.0,456.5 287.9,454.2 293.8,460.3" fill="#f7853b"/>
<polygon points="276.2,458.9 270.2,453.1 276.1,450.9 282.0,456.5" fill="#f5713a"/>
<polygon points="396.8,520.5 391.4,509.8 397.1,505.1 402.5,515.5" fill="#1cea7f"/>
<polygon points="385.7,514.4 380.2,504.0 385.9,499.6 391.4,509.8" fill="#28e63e"/>
<polygon points="374.4,508.3 368.9,498.3 374.6,494.2 380.2,504.0" fill="#47e931"/>
<polygon points="363.1,502.3 357.5,492.6 363.3,488.8 368.9,498.3" fill="#67eb2c"/>
<polygon points="351.8,496.4 346.1,487.1 351.9,483.6 357.5,492.6" fill="#98ed2d"/>
<polygon points="340.3,490.6 334.6,481.8 340.4,478.4 346.1,487.1" fill="#d5f033"/>
<polygon points="317.2,479.7 311.4,471.7 317.2,468.8 323.0,476.6" fill="#f7cb39"/>
<polygon points="305.6,474.6 299.7,467.1 305.5,464.4 311.4,471.7" fill="#f8b43b"/>
<polygon points="282.1,465.3 276.2,458.9 282.0,456.5 287.9,462.8" fill="#f7863b"/>
<polygon points="270.3,461.3 264.4,455.4 270.2,453.1 276.2,458.9" fill="#f5723a"/>
<polygon points="258.5,457.6 252.5,452.3 258.4,450.2 264.4,455.4" fill="#f46039"/>
<polygon points="328.8,485.0 323.0,476.6 328.8,473.5 334.6,481.8" fill="#f6e538"/>
<polygon points="293.9,469.8 287.9,462.8 293.8,460.3 299.7,467.1" fill="#f89d3c"/>
<polygon points="391.1,525.3 385.7,514.4 391.4,509.8 396.8,520.5" fill="#18eb92"/>
<polygon points="379.9,518.9 374.4,508.3 380.2,504.0 385.7,514.4" fill="#24e74f"/>
<polygon points="346.0,500.1 340.3,490.6 346.1,487.1 351.8,496.4" fill="#8ded2b"/>
<polygon points="334.6,494.1 328.8,485.0 334.6,481.8 340.3,490.6" fill="#ccef32"/>
<polygon points="276.3,467.9 270.3,461.3 276.2,458.9 282.1,465.3" fill="#f7873b"/>
<polygon points="368.7,512.6 363.1,502.3 368.9,498.3 374.4,508.3" fill="#3fe833"/>
<polygon points="357.4,506.3 351.8,496.4 357.5,492.6 363.1,502.3" fill="#61eb2d"/>
<polygon points="323.0,488.3 317.2,479.7 323.0,476.6 328.8,485.0" fill="#f6e838"/>
<polygon points="311.4,482.7 305.6,474.6 311.4,471.7 317.2,479.7" fill="#f7ce39"/>
<polygon points="299.8,477.4 293.9,469.8 299.7,467.1 305.6,474.6" fill="#f8b63b"/>
<polygon points="288.0,472.5 282.1,465.3 287.9,462.8 293.9,469.8" fill="#f89e3c"/>
<polygon points="264.5,463.7 258.5,457.6 264.4,455.4 270.3,461.3" fill="#f5723a"/>
<polygon points="385.4,530.1 379.9,518.9 385.7,514.4 391.1,525.3" fill="#16eba6"/>
<polygon points="374.2,523.4 368.7,512.6 374.4,508.3 379.9,518.9" fill="#22e860"/>
<polygon points="363.0,516.8 357.4,506.3 363.1,502.3 368.7,512.6" fill="#38e734"/>
<polygon points="351.7,510.2 346.0,500.1 351.8,496.4 357.4,506.3" fill="#5bea2f"/>
<polygon points="340.3,503.8 334.6,494.1 340.3,490.6 346.0,500.1" fill="#81ec2a"/>
<polygon points="328.8,497.6 323.0,488.3 328.8,485.0 334.6,494.1" fill="#c3ef31"/>
<polygon points="305.6,485.8 299.8,477.4 305.6,474.6 311.4,482.7" fill="#f7d039"/>
<polygon points="294.0,480.3 288.0,472.5 293.9,469.8 299.8,477.4" fill="#f8b63a"/>
<polygon points="282.2,475.2 276.3,467.9 282.1,465.3 288.0,472.5" fill="#f8a03c"/>
<polygon points="270.4,470.4 264.5,463.7 270.3,461.3 276.3,467.9" fill="#f7883b"/>
<polygon points="317.3,491.5 311.4,482.7 317.2,479.7 323.0,488.3" fill="#f6eb37"/>
<polygon points="288.2,483.2 282.2,475.2 288.0,472.5 294.0,480.3" fill="#f8b83a"/>
<polygon points="379.7,534.8 374.2,523.4 379.9,518.9 385.4,530.1" fill="#12ecb8"/>
<polygon points="368.5,527.9 363.0,516.8 368.7,512.6 374.2,523.4" fill="#1fe970"/>
<polygon points="357.3,520.9 351.7,510.2 357.4,506.3 363.0,516.8" fill="#31e736"/>
<polygon points="334.5,507.5 328.8,497.6 334.6,494.1 340.3,503.8" fill="#78ec29"/>
<polygon points="323.1,501.0 317.3,491.5 323.0,488.3 328.8,497.6" fill="#bbef31"/>
<polygon points="311.5,494.8 305.6,485.8 311.4,482.7 317.3,491.5" fill="#f6ee37"/>
<polygon points="299.9,488.8 294.0,480.3 299.8,477.4 305.6,485.8" fill="#f7d239"/>
<polygon points="276.4,477.9 270.4,470.4 276.3,467.9 282.2,475.2" fill="#f8a13c"/>
<polygon points="346.0,514.1 340.3,503.8 346.0,500.1 351.7,510.2" fill="#55ea30"/>
<polygon points="317.3,504.4 311.5,494.8 317.3,491.5 323.1,501.0" fill="#b4ee30"/>
<polygon points="282.4,486.1 276.4,477.9 282.2,475.2 288.2,483.2" fill="#f8ba3a"/>
<polygon points="374.0,539.5 368.5,527.9 374.2,523.4 379.7,534.8" fill="#12e9c2"/>
<polygon points="362.8,532.2 357.3,520.9 363.0,516.8 368.5,527.9" fill="#1cea7f"/>
<polygon points="351.6,525.1 346.0,514.1 351.7,510.2 357.3,520.9" fill="#2ae637"/>
<polygon points="328.8,511.1 323.1,501.0 328.8,497.6 334.5,507.5" fill="#74ec2a"/>
<polygon points="294.1,491.9 288.2,483.2 294.0,480.3 299.9,488.8" fill="#f7d539"/>
<polygon points="340.2,518.0 334.5,507.5 340.3,503.8 346.0,514.1" fill="#4fe931"/>
<polygon points="305.7,498.0 299.9,488.8 305.6,485.8 311.5,494.8" fill="#f6f137"/>
<polygon points="368.3,544.1 362.8,532.2 368.5,527.9 374.0,539.5" fill="#12e5cb"/>
<polygon points="357.1,536.6 351.6,525.1 357.3,520.9 362.8,532.2" fill="#1aeb8d"/>
<polygon points="345.9,529.1 340.2,518.0 346.0,514.1 351.6,525.1" fill="#27e741"/>
<polygon points="334.5,521.8 328.8,511.1 334.5,507.5 340.2,518.0" fill="#4ae931"/>
<polygon points="323.1,514.7 317.3,504.4 323.1,501.0 328.8,511.1" fill="#6feb2b"/>
<polygon points="311.6,507.8 305.7,498.0 311.5,494.8 317.3,504.4" fill="#abee2f"/>
<polygon points="288.3,494.9 282.4,486.1 288.2,483.2 294.1,491.9" fill="#f7d739"/>
<polygon points="300.0,501.2 294.1,491.9 299.9,488.8 305.7,498.0" fill="#eff136"/>
<polygon points="317.4,518.3 311.6,507.8 317.3,504.4 323.1,514.7" fill="#6aeb2c"/>
<polygon points="305.8,511.3 300.0,501.2 305.7,498.0 311.6,507.8" fill="#a4ee2e"/>
<polygon points="362.6,548.7 357.1,536.6 362.8,532.2 368.3,544.1" fill="#12e2d3"/>
<polygon points="351.4,540.9 345.9,529.1 351.6,525.1 357.1,536.6" fill="#17eb9b"/>
<polygon points="340.2,533.2 334.5,521.8 340.2,518.0 345.9,529.1" fill="#25e74d"/>
<polygon points="328.8,525.6 323.1,514.7 328.8,511.1 334.5,521.8" fill="#44e832"/>
<polygon points="294.2,504.5 288.3,494.9 294.1,491.9 300.0,501.2" fill="#e9f035"/>
<polygon points="345.8,545.1 340.2,533.2 345.9,529.1 351.4,540.9" fill="#15eba9"/>
<polygon points="334.5,537.2 328.8,525.6 334.5,521.8 340.2,533.2" fill="#23e859"/>
<polygon points="300.1,514.7 294.2,504.5 300.0,501.2 305.8,511.3" fill="#9ced2d"/>
<polygon points="357.0,553.2 351.4,540.9 357.1,536.6 362.6,548.7" fill="#12dedc"/>
<polygon points="323.1,529.5 317.4,518.3 323.1,514.7 328.8,525.6" fill="#3fe833"/>
<polygon points="311.6,521.9 305.8,511.3 311.6,507.8 317.4,518.3" fill="#66eb2d"/>
<polygon points="351.3,557.7 345.8,545.1 351.4,540.9 357.0,553.2" fill="#12dce4"/>
<polygon points="340.1,549.4 334.5,537.2 340.2,533.2 345.8,545.1" fill="#13ecb6"/>
<polygon points="328.8,541.2 323.1,529.5 328.8,525.6 334.5,537.2" fill="#21e865"/>
<polygon points="317.4,533.3 311.6,521.9 317.4,518.3 323.1,529.5" fill="#3ae734"/>
<polygon points="305.9,525.6 300.1,514.7 305.8,511.3 311.6,521.9" fill="#61eb2d"/>
<polygon points="345.7,562.1 340.1,549.4 345.8,545.1 351.3,557.7" fill="#12d8eb"/>
<polygon points="334.5,553.6 328.8,541.2 334.5,537.2 340.1,549.4" fill="#12ebbe"/>
<polygon points="323.1,545.2 317.4,533.3 323.1,529.5 328.8,541.2" fill="#1fe970"/>
<polygon points="311.7,537.1 305.9,525.6 311.6,521.9 317.4,533.3" fill="#35e735"/>
<polygon points="340.0,566.6 334.5,553.6 340.1,549.4 345.7,562.1" fill="#12d5f3"/>
<polygon points="328.8,557.8 323.1,545.2 328.8,541.2 334.5,553.6" fill="#12e8c5"/>
<polygon points="317.5,549.2 311.7,537.1 317.4,533.3 323.1,545.2" fill="#1dea7b"/>
<polygon points="334.4,571.0 328.8,557.8 334.5,553.6 340.0,566.6" fill="#12d2fa"/>
<polygon points="323.2,562.0 317.5,549.2 323.1,545.2 328.8,557.8" fill="#12e5cc"/>
<polygon points="328.8,575.4 323.2,562.0 328.8,557.8 334.4,571.0" fill="#12cfff"/>
</g>
<text x="42.0" y="184.8" font-size="10" text-anchor="end" fill="#222">9.5</text>
<text x="40.6" y="162.6" font-size="10" text-anchor="end" fill="#222">10</text>
<text x="39.1" y="140.3" font-size="10" text-anchor="end" fill="#222">10.5</text>
<text x="37.7" y="118.1" font-size="10" text-anchor="end" fill="#222">11</text>
<text x="36.2" y="95.8" font-size="10" text-anchor="end" fill="#222">11.5</text>
<text x="34.7" y="73.6" font-size="10" text-anchor="end" fill="#222">12</text>
<text x="153.5" y="295.2" font-size="10" text-anchor="end" fill="#222">0</text>
<text x="131.7" y="282.3" font-size="10" text-anchor="end" fill="#222">3</text>
<text x="109.8" y="269.5" font-size="10" text-anchor="end" fill="#222">6</text>
<text x="87.9" y="256.6" font-size="10" text-anchor="end" fill="#222">9</text>
<text x="66.1" y="243.7" font-size="10" text-anchor="end" fill="#222">12</text>
<text x="44.2" y="230.9" font-size="10" text-anchor="end" fill="#222">15</text>
<text x="162.4" y="295.2" font-size="10" fill="#222">45</text>
<text x="184.3" y="282.4" font-size="10" fill="#222">54</text>
<text x="206.2" y="269.5" font-size="10" fill="#222">63</text>
<text x="228.0" y="256.7" font-size="10" fill="#222">72</text>
<text x="249.9" y="243.8" font-size="10" fill="#222">81</text>
<text x="271.8" y="231.0" font-size="10" fill="#222">90</text>
<text x="5.7" y="281.7" font-size="11.5" textLength="114.8" lengthAdjust="spacingAndGlyphs" fill="#222">Seawater concentration (%)</text>
<text x="212.8" y="281.7" font-size="11.5" textLength="86.1" lengthAdjust="spacingAndGlyphs" fill="#222">Retention time (min)</text>
<text x="13.8" y="312.1" font-size="20" textLength="20.4" lengthAdjust="spacingAndGlyphs" fill="#111">(a)</text>
<text x="0" y="0" transform="translate(9.1,150.3) rotate(-90)" font-size="11" text-anchor="middle" font-weight="bold" textLength="12.4" lengthAdjust="spacingAndGlyphs" fill="#222">pH</text>
<circle cx="195.3" cy="9.3" r="2.4" fill="#a80000" stroke="#3a0000" stroke-width="0.7"/>
<text x="201.5" y="12.3" font-size="9.5" textLength="105.0" lengthAdjust="spacingAndGlyphs" fill="#a01818">Design points above predicted value</text>
<circle cx="195.3" cy="25.6" r="2.4" fill="#f8d4d4" stroke="#5a3030" stroke-width="0.7"/>
<text x="201.5" y="28.6" font-size="9.5" textLength="105.8" lengthAdjust="spacingAndGlyphs" fill="#a01818">Design points below predicted value</text>
<polygon points="297.6,119.3 307.3,119.3 308.8,180.4 299.4,180.4" fill="url(#cbg)" stroke="#111" stroke-width="1"/>
<text x="302.4" y="112.9" font-size="9" text-anchor="middle" font-weight="bold" fill="#d42020">11.60</text>
<text x="305.1" y="196.8" font-size="9" text-anchor="middle" font-weight="bold" fill="#2a7fc4">9.85</text>
<circle cx="42.0" cy="119.5" r="2.6" fill="#a80000" stroke="#3a0000" stroke-width="0.7"/>
<circle cx="158.4" cy="114.9" r="2.6" fill="#a80000" stroke="#3a0000" stroke-width="0.7"/>
<line x1="194.3" y1="66.2" x2="194.3" y2="72.1" stroke="#222" stroke-width="0.8"/>
<circle cx="194.3" cy="66.2" r="2.6" fill="#a80000" stroke="#3a0000" stroke-width="0.7"/>
<circle cx="213.3" cy="82.0" r="2.6" fill="#a80000" stroke="#3a0000" stroke-width="0.7"/>
<circle cx="158.2" cy="232.1" r="2.6" fill="#a80000" stroke="#3a0000" stroke-width="0.7"/>
<line x1="78.4" y1="157.9" x2="78.4" y2="150.5" stroke="#222" stroke-width="0.8"/>
<circle cx="78.4" cy="157.9" r="2.6" fill="#f8d4d4" stroke="#5a3030" stroke-width="0.7"/>
<circle cx="116.5" cy="189.1" r="2.6" fill="#f8d4d4" stroke="#5a3030" stroke-width="0.7"/>
<circle cx="218.4" cy="182.6" r="2.6" fill="#f8d4d4" stroke="#5a3030" stroke-width="0.7"/>
<circle cx="273.1" cy="138.0" r="2.6" fill="#f8d4d4" stroke="#5a3030" stroke-width="0.7"/>
<text x="413.3" y="190.7" font-size="10" text-anchor="end" fill="#222">2000</text>
<text x="411.6" y="160.8" font-size="10" text-anchor="end" fill="#222">4000</text>
<text x="409.9" y="130.8" font-size="10" text-anchor="end" fill="#222">6000</text>
<text x="408.2" y="100.8" font-size="10" text-anchor="end" fill="#222">8000</text>
<text x="406.5" y="70.9" font-size="10" text-anchor="end" fill="#222">10000</text>
<text x="516.0" y="307.6" font-size="10" text-anchor="end" fill="#222">0</text>
<text x="495.8" y="294.0" font-size="10" text-anchor="end" fill="#222">3</text>
<text x="475.7" y="280.4" font-size="10" text-anchor="end" fill="#222">6</text>
<text x="455.6" y="266.8" font-size="10" text-anchor="end" fill="#222">9</text>
<text x="435.4" y="253.2" font-size="10" text-anchor="end" fill="#222">12</text>
<text x="415.3" y="239.6" font-size="10" text-anchor="end" fill="#222">15</text>
<text x="524.9" y="307.6" font-size="10" fill="#222">45</text>
<text x="545.0" y="294.0" font-size="10" fill="#222">54</text>
<text x="565.2" y="280.3" font-size="10" fill="#222">63</text>
<text x="585.3" y="266.7" font-size="10" fill="#222">72</text>
<text x="605.5" y="253.1" font-size="10" fill="#222">81</text>
<text x="625.6" y="239.5" font-size="10" fill="#222">90</text>
<text x="377.7" y="293.9" font-size="11.5" textLength="108.4" lengthAdjust="spacingAndGlyphs" fill="#222">Seawater concentration (%)</text>
<text x="569.3" y="294.0" font-size="11.5" textLength="82.5" lengthAdjust="spacingAndGlyphs" fill="#222">Retention time (min)</text>
<text x="379.3" y="320.7" font-size="20" textLength="21.9" lengthAdjust="spacingAndGlyphs" fill="#111">(b)</text>
<text x="0" y="0" transform="translate(383.3,151.2) rotate(-90)" font-size="11.5" text-anchor="middle" textLength="148.6" lengthAdjust="spacingAndGlyphs" fill="#222">Electrical conductivity (µs/cm)</text>
<circle cx="565.4" cy="9.5" r="2.4" fill="#a80000" stroke="#3a0000" stroke-width="0.7"/>
<text x="571.8" y="12.5" font-size="9.5" textLength="104.0" lengthAdjust="spacingAndGlyphs" fill="#a01818">Design points above predicted value</text>
<circle cx="565.4" cy="25.8" r="2.4" fill="#f8d4d4" stroke="#5a3030" stroke-width="0.7"/>
<text x="571.8" y="28.8" font-size="9.5" textLength="104.8" lengthAdjust="spacingAndGlyphs" fill="#a01818">Design points below predicted value</text>
<polygon points="667.5,122.1 677.0,122.1 678.75,183.2 669.3,183.2" fill="url(#cbg)" stroke="#111" stroke-width="1"/>
<text x="671.6" y="115.2" font-size="9" text-anchor="middle" font-weight="bold" fill="#d42020">9690</text>
<text x="675.2" y="200.9" font-size="9" text-anchor="middle" font-weight="bold" fill="#2a7fc4">2380</text>
<circle cx="411.5" cy="87.1" r="2.6" fill="#a80000" stroke="#3a0000" stroke-width="0.7"/>
<circle cx="520.5" cy="129.4" r="2.6" fill="#a80000" stroke="#3a0000" stroke-width="0.7"/>
<circle cx="554.0" cy="74.0" r="2.6" fill="#a80000" stroke="#3a0000" stroke-width="0.7"/>
<circle cx="574.6" cy="216.5" r="2.6" fill="#a80000" stroke="#3a0000" stroke-width="0.7"/>
<circle cx="520.4" cy="250.2" r="2.6" fill="#a80000" stroke="#3a0000" stroke-width="0.7"/>
<circle cx="623.5" cy="186.3" r="2.6" fill="#f8d4d4" stroke="#5a3030" stroke-width="0.7"/>
<text x="212.9" y="531.7" font-size="10" text-anchor="end" fill="#222">0</text>
<text x="211.2" y="503.1" font-size="10" text-anchor="end" fill="#222">2</text>
<text x="209.5" y="474.5" font-size="10" text-anchor="end" fill="#222">4</text>
<text x="207.7" y="445.9" font-size="10" text-anchor="end" fill="#222">6</text>
<text x="206.0" y="417.3" font-size="10" text-anchor="end" fill="#222">8</text>
<text x="324.1" y="644.2" font-size="10" text-anchor="end" fill="#222">0</text>
<text x="302.3" y="631.2" font-size="10" text-anchor="end" fill="#222">3</text>
<text x="280.5" y="618.2" font-size="10" text-anchor="end" fill="#222">6</text>
<text x="258.7" y="605.2" font-size="10" text-anchor="end" fill="#222">9</text>
<text x="236.9" y="592.2" font-size="10" text-anchor="end" fill="#222">12</text>
<text x="215.1" y="579.2" font-size="10" text-anchor="end" fill="#222">15</text>
<text x="333.0" y="644.2" font-size="10" fill="#222">45</text>
<text x="354.8" y="631.2" font-size="10" fill="#222">54</text>
<text x="376.7" y="618.2" font-size="10" fill="#222">63</text>
<text x="398.5" y="605.2" font-size="10" fill="#222">72</text>
<text x="420.3" y="592.2" font-size="10" fill="#222">81</text>
<text x="442.2" y="579.2" font-size="10" fill="#222">90</text>
<text x="175.5" y="630.8" font-size="11.5" textLength="113.6" lengthAdjust="spacingAndGlyphs" fill="#222">Seawater concentration (%)</text>
<text x="383.1" y="630.8" font-size="11.5" textLength="85.9" lengthAdjust="spacingAndGlyphs" fill="#222">Retention time (min)</text>
<text x="280.8" y="666.6" font-size="20" textLength="21.0" lengthAdjust="spacingAndGlyphs" fill="#111">(c)</text>
<text x="0" y="0" transform="translate(180.5,497.8) rotate(-90)" font-size="11.5" text-anchor="middle" textLength="48.2" lengthAdjust="spacingAndGlyphs" fill="#222">DO (mg/L)</text>
<circle cx="365.6" cy="355.6" r="2.4" fill="#a80000" stroke="#3a0000" stroke-width="0.7"/>
<text x="371.3" y="358.6" font-size="9.5" textLength="105.0" lengthAdjust="spacingAndGlyphs" fill="#a01818">Design points above predicted value</text>
<circle cx="365.6" cy="371.9" r="2.4" fill="#f8d4d4" stroke="#5a3030" stroke-width="0.7"/>
<text x="371.3" y="374.9" font-size="9.5" textLength="105.8" lengthAdjust="spacingAndGlyphs" fill="#a01818">Design points below predicted value</text>
<polygon points="467.2,465.1 476.6,465.1 478.7,526.7 468.9,526.7" fill="url(#cbg)" stroke="#111" stroke-width="1"/>
<text x="472.1" y="458.1" font-size="9" text-anchor="middle" font-weight="bold" fill="#d42020">7.24</text>
<text x="474.6" y="543.7" font-size="9" text-anchor="middle" font-weight="bold" fill="#2a7fc4">0.31</text>
<circle cx="273.7" cy="422.7" r="2.6" fill="#a80000" stroke="#3a0000" stroke-width="0.7"/>
<circle cx="328.3" cy="406.0" r="2.6" fill="#a80000" stroke="#3a0000" stroke-width="0.7"/>
<circle cx="266.2" cy="464.4" r="2.6" fill="#a80000" stroke="#3a0000" stroke-width="0.7"/>
<line x1="285.9" y1="463.5" x2="285.9" y2="489.4" stroke="#222" stroke-width="0.8"/>
<circle cx="285.9" cy="463.5" r="2.6" fill="#a80000" stroke="#3a0000" stroke-width="0.7"/>
<circle cx="442.9" cy="467.9" r="2.6" fill="#a80000" stroke="#3a0000" stroke-width="0.7"/>
<circle cx="211.6" cy="442.4" r="2.6" fill="#f8d4d4" stroke="#5a3030" stroke-width="0.7"/>
<line x1="247.4" y1="457.6" x2="247.4" y2="450.0" stroke="#222" stroke-width="0.8"/>
<circle cx="247.4" cy="457.6" r="2.6" fill="#f8d4d4" stroke="#5a3030" stroke-width="0.7"/>
<line x1="329.0" y1="591.3" x2="329.0" y2="574.5" stroke="#222" stroke-width="0.8"/>
<circle cx="329.0" cy="591.3" r="2.6" fill="#f8d4d4" stroke="#5a3030" stroke-width="0.7"/>
</svg></body></html>
